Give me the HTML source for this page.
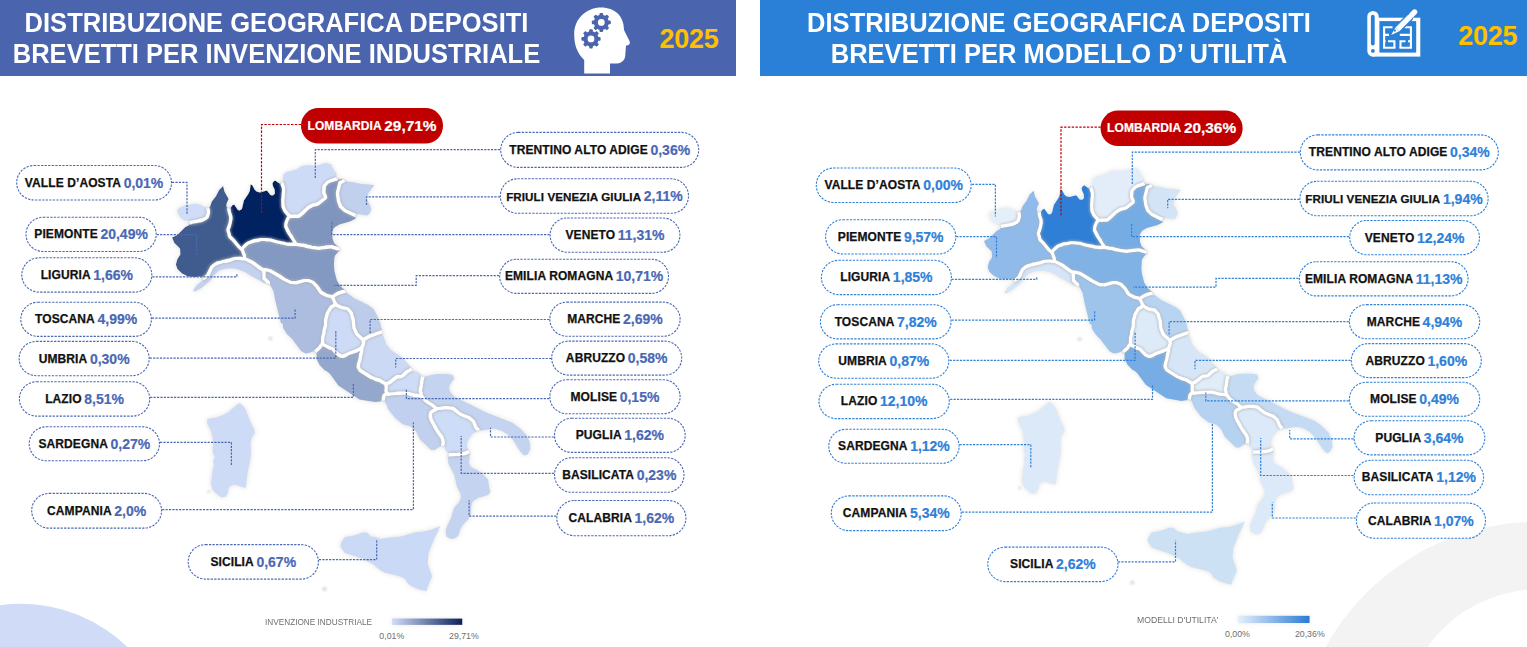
<!DOCTYPE html>
<html><head><meta charset="utf-8"><style>
*{margin:0;padding:0;box-sizing:border-box}
html,body{width:1527px;height:647px;overflow:hidden;background:#fff}
body{position:relative;font-family:"Liberation Sans",sans-serif}
.hdr{position:absolute;top:0;height:75.8px}
.ht{position:absolute;color:#fff;font-weight:bold;font-size:27.5px;line-height:27.5px;white-space:nowrap;transform-origin:center top}
.yr{position:absolute;color:#ffc000;font-weight:bold;font-size:27px;line-height:27px}
.pill{position:absolute;display:flex;align-items:center;justify-content:center;gap:2.6px;white-space:nowrap}
.pill .n{font-weight:bold;font-size:12px;color:#111;letter-spacing:0.1px;-webkit-text-stroke:0.25px #111}
.pill .v{font-weight:bold;font-size:14px;-webkit-text-stroke:0.2px currentColor}
svg{position:absolute;left:0;top:0}
.lg{position:absolute;color:#6e6e6e;white-space:nowrap}
</style></head><body>
<svg width="1527" height="647" viewBox="0 0 1527 647">
<defs>
<filter id="halo" x="-10%" y="-10%" width="120%" height="120%">
 <feGaussianBlur in="SourceAlpha" stdDeviation="2.6" result="b"/>
 <feFlood flood-color="#d2d0cc" flood-opacity="0.7"/>
 <feComposite in2="b" operator="in" result="halo"/>
 <feGaussianBlur in="SourceGraphic" stdDeviation="0.4" result="sg"/>
 <feMerge><feMergeNode in="halo"/><feMergeNode in="sg"/></feMerge>
</filter>
<filter id="soft"><feGaussianBlur stdDeviation="0.45"/></filter>
<filter id="barhalo" x="-20%" y="-150%" width="140%" height="400%">
 <feGaussianBlur in="SourceAlpha" stdDeviation="2" result="b"/>
 <feFlood flood-color="#d2d0cc" flood-opacity="0.5"/>
 <feComposite in2="b" operator="in" result="halo"/>
 <feMerge><feMergeNode in="halo"/><feMergeNode in="SourceGraphic"/></feMerge>
</filter>
<filter id="soft2"><feGaussianBlur stdDeviation="1.1"/></filter>

<linearGradient id="gl" x1="0" x2="1"><stop offset="0" stop-color="#d0ddf8"/><stop offset="1" stop-color="#0b1f5e"/></linearGradient>
<linearGradient id="gr" x1="0" x2="1"><stop offset="0" stop-color="#e6effb"/><stop offset="1" stop-color="#2a7bd5"/></linearGradient>
</defs>
<circle cx="21.1" cy="756.1" r="152.3" fill="#cfdbf7"/>
<path fill="#f3f3f3" fill-rule="evenodd" d="M1295.5,764.1 a242.3,242.3 0 1,0 484.6,0 a242.3,242.3 0 1,0 -484.6,0 Z M1402.6,725.3 a136,136 0 1,0 272,0 a136,136 0 1,0 -272,0 Z"/>
<g transform="translate(0,0)"><g filter="url(#soft2)" fill="#dcdcdc"><circle cx="324.6" cy="589" r="2.2"/><circle cx="270.4" cy="338.6" r="2"/><circle cx="208.8" cy="491.5" r="1.6"/></g><g filter="url(#halo)">
<path d="M223.1,186.1 L219.1,189.9 L216.1,196.1 L211.9,201.6 L209.9,206.9 L208.9,207.9 L207.9,208.1 L208.6,212.4 L207.4,216.9 L205.9,218.4 L202.9,219.9 L189.9,222.9 L189.9,223.9 L188.6,225.4 L185.4,227.1 L177.4,234.9 L172.1,237.6 L174.4,243.1 L179.6,247.9 L180.1,249.1 L180.4,254.4 L177.4,259.1 L175.9,264.6 L177.4,269.1 L182.1,273.4 L188.1,276.4 L194.9,277.1 L200.4,276.6 L201.9,277.1 L203.1,278.4 L205.9,276.6 L208.1,274.4 L211.6,266.9 L215.1,264.1 L217.1,263.1 L222.6,261.4 L229.6,260.1 L234.4,258.4 L244.4,258.4 L244.1,255.1 L241.9,249.4 L238.1,246.1 L233.1,239.9 L229.9,236.9 L229.1,235.1 L227.9,229.6 L229.9,223.9 L230.9,218.4 L228.9,210.6 L228.9,208.1 L227.6,207.9 L226.4,206.4 L226.4,203.9 L228.6,199.1 L224.4,191.6Z" fill="#405b8f"/>
<path d="M208.1,209.4 L207.6,208.1 L206.1,208.1 L200.9,204.9 L196.4,203.6 L184.9,205.6 L179.9,207.6 L177.6,209.4 L177.1,210.4 L177.9,213.4 L180.9,217.9 L184.4,220.4 L188.1,220.6 L189.6,221.9 L189.9,222.6 L199.9,220.6 L205.9,218.1 L207.1,216.9 L208.4,212.4Z" fill="#cfddf8"/>
<path d="M281.6,183.1 L280.4,183.6 L279.4,183.4 L275.1,180.4 L273.6,181.4 L272.4,183.6 L273.1,186.4 L274.6,189.4 L274.9,193.4 L273.6,194.9 L272.1,195.4 L270.4,194.9 L266.9,190.6 L259.9,192.4 L256.6,191.6 L254.9,190.1 L252.1,185.1 L250.6,184.6 L249.9,190.6 L248.6,193.6 L243.9,200.6 L241.9,208.9 L240.4,210.1 L239.4,210.4 L237.9,209.9 L234.1,204.6 L232.1,205.6 L230.6,207.9 L228.9,208.6 L231.1,218.4 L230.1,223.9 L228.1,229.6 L229.4,235.1 L230.1,236.9 L233.4,239.9 L238.4,246.1 L241.6,249.1 L247.6,243.1 L254.4,240.6 L260.9,239.4 L270.6,239.9 L279.4,242.4 L288.1,244.1 L292.4,244.4 L295.4,243.9 L295.1,242.6 L288.1,231.9 L285.6,226.6 L285.6,223.9 L286.4,221.4 L289.4,216.1 L285.4,211.6 L282.9,206.4 L282.6,198.9 L283.4,192.9 L283.4,188.1Z" fill="#002060"/>
<path d="M331.1,164.4 L326.1,162.9 L314.6,165.9 L308.9,165.1 L301.6,165.9 L296.6,169.4 L286.4,172.1 L283.1,175.1 L283.1,181.6 L281.9,183.1 L283.6,188.1 L283.6,192.9 L282.9,198.9 L283.1,206.4 L285.6,211.6 L289.9,216.4 L298.9,215.9 L302.1,213.4 L307.6,207.9 L312.4,205.1 L317.6,203.9 L325.1,198.1 L325.4,196.4 L323.6,192.4 L324.1,185.9 L327.6,182.1 L336.6,178.6 L336.1,177.4 L336.6,173.6 L333.6,169.6Z" fill="#cddbf6"/>
<path d="M343.6,179.1 L338.9,179.4 L336.9,178.4 L336.4,179.1 L330.1,181.1 L327.6,182.4 L324.4,185.9 L323.9,192.4 L325.6,196.4 L325.6,197.6 L324.6,198.9 L317.6,204.1 L312.4,205.4 L307.6,208.1 L302.1,213.6 L298.9,216.1 L293.9,216.6 L289.6,216.4 L287.9,218.6 L286.1,222.9 L285.9,226.6 L288.4,231.9 L295.4,242.6 L295.9,244.1 L303.4,245.1 L308.6,246.6 L315.6,247.9 L318.9,248.1 L331.4,246.6 L337.1,248.6 L339.4,248.6 L334.1,243.1 L332.6,238.9 L332.1,231.6 L333.9,228.1 L335.1,226.9 L339.4,224.4 L349.9,221.6 L355.9,218.6 L355.1,217.6 L355.4,215.6 L345.1,210.9 L340.4,206.4 L338.4,200.9 L337.4,195.1 L337.4,192.6 L339.9,182.6 L343.9,180.6 L344.1,180.1Z" fill="#8095be"/>
<path d="M340.4,182.4 L337.6,192.6 L337.6,195.1 L338.6,200.9 L340.6,206.4 L345.1,210.6 L355.1,215.4 L357.9,214.1 L366.9,215.4 L369.4,214.1 L371.4,208.9 L369.4,204.1 L366.9,200.1 L366.9,198.4 L368.4,193.1 L374.4,185.1 L361.6,183.9 L351.6,181.9 L346.4,181.4 L344.4,180.4 L343.1,181.4Z" fill="#c0d0ed"/>
<path d="M241.9,249.1 L244.4,255.1 L244.9,258.6 L252.6,262.4 L260.6,268.4 L263.6,269.6 L265.1,269.4 L270.9,270.9 L288.9,281.6 L290.9,282.4 L296.1,282.6 L304.4,280.4 L309.1,280.6 L312.9,282.1 L317.1,286.4 L321.1,292.4 L326.4,295.4 L331.9,296.6 L338.1,293.1 L342.6,291.6 L344.9,291.4 L344.9,290.4 L339.9,285.4 L336.9,280.6 L334.4,271.1 L333.9,265.1 L334.4,257.4 L335.4,255.1 L338.1,251.9 L340.4,250.1 L339.6,248.9 L338.1,249.1 L331.4,246.9 L318.9,248.4 L315.6,248.1 L295.6,244.1 L292.4,244.6 L286.4,244.1 L270.6,240.1 L260.9,239.6 L254.4,240.9 L248.1,243.1Z" fill="#8499c1"/>
<path d="M268.4,282.6 L263.9,278.4 L263.9,272.4 L263.4,271.9 L263.4,269.6 L260.6,268.6 L252.6,262.6 L244.6,258.6 L234.4,258.6 L229.6,260.4 L222.6,261.6 L217.1,263.4 L212.4,266.4 L207.6,275.4 L203.1,278.6 L202.9,280.6 L196.9,285.1 L192.9,290.6 L195.1,291.6 L201.4,287.9 L208.6,281.9 L211.1,279.4 L214.1,275.1 L219.1,270.6 L222.6,269.4 L227.6,268.4 L233.9,268.4 L238.6,269.4 L245.9,272.4 L249.4,274.9 L264.4,283.1 L268.4,283.6Z" fill="#c4d2f0"/>
<path d="M263.9,269.9 L263.6,271.9 L264.1,272.4 L264.1,278.4 L268.6,282.6 L268.6,283.6 L270.6,285.4 L273.6,291.4 L275.4,301.1 L280.9,322.9 L281.6,323.1 L282.9,324.6 L283.1,327.9 L286.9,333.9 L292.1,339.1 L301.1,351.1 L305.6,353.4 L310.4,352.6 L313.6,351.1 L315.1,351.6 L319.6,347.6 L320.9,345.4 L322.4,344.1 L322.6,337.4 L323.9,332.6 L323.9,330.1 L325.4,326.1 L325.4,319.9 L327.1,313.4 L330.6,307.4 L335.6,304.4 L335.4,303.1 L334.6,302.6 L332.1,296.9 L326.4,295.6 L321.1,292.6 L316.9,286.4 L312.9,282.4 L308.4,280.6 L304.4,280.6 L296.1,282.9 L290.9,282.6 L284.1,279.4 L270.9,271.1 L265.1,269.6Z" fill="#acbddf"/>
<path d="M332.4,296.9 L334.9,302.6 L335.6,303.1 L335.9,304.6 L341.1,307.4 L347.6,308.6 L351.1,312.6 L353.4,320.1 L354.1,327.9 L356.9,334.1 L362.9,339.6 L369.4,336.1 L381.9,331.9 L382.1,330.9 L380.4,323.6 L378.1,317.6 L373.6,308.9 L368.1,305.1 L353.9,298.1 L348.6,293.9 L346.1,292.9 L345.1,291.6 L342.6,291.9 L338.1,293.4Z" fill="#bcccea"/>
<path d="M335.6,304.6 L330.9,307.4 L327.4,313.4 L325.6,319.9 L325.6,326.1 L324.1,330.1 L324.1,332.6 L322.9,337.4 L322.6,344.1 L329.4,347.6 L332.4,348.6 L337.9,354.4 L341.4,356.1 L343.1,356.1 L348.6,353.4 L356.6,350.6 L361.1,348.4 L362.6,345.9 L363.6,342.6 L362.6,339.4 L356.6,334.1 L353.9,327.9 L353.1,320.1 L350.9,312.6 L347.6,308.9 L341.1,307.6Z" fill="#cddbf7"/>
<path d="M315.4,351.6 L316.6,353.1 L316.6,358.9 L319.6,364.9 L324.4,369.9 L327.9,371.9 L330.1,374.1 L338.4,385.4 L359.4,399.4 L374.9,402.1 L380.1,401.4 L383.1,400.1 L384.1,395.1 L386.6,393.4 L385.9,390.9 L385.9,383.9 L379.6,380.4 L375.4,379.4 L368.4,375.9 L360.4,370.6 L358.1,367.1 L358.6,363.4 L359.9,359.6 L361.9,349.1 L361.4,348.6 L360.6,348.6 L356.6,350.9 L348.6,353.6 L343.1,356.4 L341.4,356.4 L337.9,354.6 L332.4,348.9 L329.4,347.9 L322.4,344.4 L321.1,345.4 L319.9,347.6Z" fill="#94a7cc"/>
<path d="M381.1,332.1 L369.4,336.4 L363.1,339.9 L363.9,342.6 L362.9,345.9 L361.4,348.4 L362.1,349.1 L360.1,359.6 L358.9,363.4 L358.4,367.1 L360.4,370.4 L369.6,376.4 L375.4,379.1 L379.6,380.1 L384.6,383.1 L386.4,383.6 L389.6,382.4 L397.1,376.6 L401.9,376.1 L406.6,371.9 L411.6,369.4 L410.9,367.4 L402.9,358.1 L391.6,350.4 L388.9,347.6 L386.4,344.4 L384.1,337.9 L381.9,333.4 L381.9,332.1Z" fill="#cbd9f5"/>
<path d="M422.9,376.6 L421.6,376.4 L420.6,375.4 L419.6,373.1 L416.1,371.4 L413.1,370.9 L411.1,369.6 L406.6,372.1 L401.9,376.4 L397.1,376.9 L389.6,382.6 L386.1,383.9 L386.1,390.9 L386.9,393.4 L388.9,394.1 L397.1,393.1 L406.4,392.9 L414.4,395.1 L420.9,395.6 L421.1,394.4 L420.1,389.9 L421.1,385.9 L421.6,380.9Z" fill="#cedcf7"/>
<path d="M422.9,376.9 L420.4,389.9 L421.4,394.4 L421.1,395.6 L425.1,400.1 L432.6,405.1 L436.6,408.9 L443.4,407.6 L448.6,407.6 L453.1,408.4 L460.6,414.1 L468.4,417.1 L471.6,419.4 L473.6,421.4 L476.1,427.4 L478.4,430.1 L479.6,429.9 L481.9,430.6 L487.9,429.4 L494.6,428.6 L502.1,430.9 L507.1,434.1 L513.1,440.1 L519.9,450.9 L524.1,455.6 L527.6,454.6 L530.4,449.1 L529.6,441.6 L526.1,434.6 L519.6,428.1 L511.9,422.6 L486.1,412.6 L454.1,396.6 L452.1,394.6 L449.6,390.9 L449.1,386.6 L451.4,382.6 L454.4,378.6 L452.6,374.9 L447.1,374.1 L437.6,374.1 L430.9,374.9 L426.1,376.4Z" fill="#c4d3f0"/>
<path d="M384.4,395.1 L383.1,400.6 L384.4,400.9 L385.4,401.9 L388.4,409.4 L395.1,418.1 L403.1,424.4 L410.9,426.4 L416.1,431.6 L419.6,438.9 L431.1,450.1 L434.6,450.1 L440.6,446.1 L442.1,445.6 L442.6,445.9 L443.1,441.9 L442.1,438.1 L435.1,427.6 L431.4,420.6 L430.1,416.1 L430.9,412.1 L436.1,409.4 L436.4,408.6 L432.6,405.4 L425.1,400.4 L421.1,395.9 L414.4,395.4 L406.4,393.1 L397.1,393.4 L388.9,394.4 L386.6,393.6Z" fill="#c1d0ee"/>
<path d="M431.4,411.9 L430.4,416.1 L431.6,420.6 L436.9,430.1 L442.1,437.6 L443.4,441.9 L442.9,445.9 L444.6,447.1 L446.1,451.1 L448.6,453.1 L448.9,454.6 L462.4,453.9 L465.9,453.1 L468.6,451.6 L468.9,451.1 L467.9,449.9 L466.9,446.4 L466.9,444.4 L468.1,440.4 L471.4,435.4 L473.1,433.6 L478.1,430.4 L475.9,427.4 L473.4,421.4 L469.4,417.9 L460.6,414.4 L452.4,408.4 L443.4,407.9 L440.1,408.6 L437.9,408.6Z" fill="#cddcf7"/>
<path d="M469.1,451.4 L465.9,453.4 L462.4,454.1 L448.9,454.9 L447.9,456.4 L447.9,460.1 L448.6,464.1 L454.1,474.6 L456.9,486.6 L460.4,493.4 L460.9,495.9 L460.9,498.6 L458.9,502.4 L453.9,507.9 L451.1,518.1 L447.6,524.9 L445.6,530.4 L446.4,536.6 L451.1,539.1 L455.6,538.1 L458.6,535.1 L460.6,528.4 L463.1,524.6 L468.1,519.6 L471.1,513.6 L471.1,506.9 L472.6,501.4 L477.9,497.9 L488.1,494.9 L490.4,491.9 L488.9,486.1 L488.1,479.6 L483.1,474.4 L477.4,470.1 L471.6,467.4 L470.6,466.4 L469.1,463.4 L469.1,460.4 L469.6,458.6 L469.6,451.6Z" fill="#c4d3f0"/>
<path d="M440.4,526.1 L430.4,529.9 L423.4,531.6 L414.9,532.6 L400.9,536.4 L386.6,537.9 L380.6,539.1 L374.9,537.1 L370.6,536.4 L367.1,532.6 L362.4,532.6 L358.9,534.1 L351.9,536.1 L344.9,537.1 L342.4,540.4 L340.4,544.4 L340.9,547.6 L344.9,553.1 L361.9,558.6 L372.9,564.1 L378.6,568.9 L384.4,572.6 L398.9,576.1 L403.1,577.6 L405.1,579.1 L408.4,583.9 L413.1,587.1 L419.6,589.4 L426.6,591.1 L427.6,587.1 L432.1,576.4 L427.6,563.4 L428.4,553.6 L434.1,538.9Z" fill="#cad9f5"/>
<path d="M239.6,403.1 L237.4,404.4 L227.9,412.6 L221.9,415.6 L216.6,417.6 L209.1,418.4 L207.1,419.4 L207.1,422.9 L210.9,430.9 L212.6,436.9 L213.1,441.9 L212.6,450.4 L213.1,453.6 L214.6,456.6 L214.6,458.1 L213.1,460.9 L213.9,463.9 L213.9,466.4 L212.6,470.6 L210.9,483.9 L212.6,489.9 L217.4,494.6 L221.6,497.6 L225.9,496.4 L227.9,492.9 L228.4,487.9 L230.9,485.6 L234.6,484.6 L245.4,488.1 L245.9,487.1 L247.4,473.9 L250.6,457.4 L251.1,450.1 L250.4,444.4 L251.6,437.9 L255.1,433.1 L254.1,429.4 L251.1,423.6 L245.6,409.4 L243.1,406.1Z" fill="#cddbf7"/>
</g>
<path d="M469.6,451.6 L468.1,450.4 L467.9,449.1 L467.4,449.1 L465.4,450.4 L462.4,451.1 L458.4,451.4 L458.1,451.6 L451.4,451.6 L451.1,451.9 L447.9,452.1 L448.9,453.6 L448.9,455.1 L447.9,456.4 L447.9,457.4 L448.9,457.6 L458.1,457.4 L458.4,457.1 L462.4,456.9 L466.9,455.9 L469.6,454.4ZM210.1,206.6 L208.9,207.9 L207.4,208.4 L206.1,208.1 L205.1,207.4 L204.9,208.4 L205.4,209.6 L205.6,212.4 L204.9,215.1 L204.4,215.9 L199.6,217.9 L193.9,219.1 L192.6,219.1 L188.4,220.4 L188.1,220.6 L189.9,222.4 L189.9,223.9 L188.9,225.4 L190.4,225.6 L192.6,224.9 L193.9,224.9 L200.9,223.4 L203.9,222.4 L207.4,220.6 L209.9,217.9 L211.4,212.4 L211.1,209.4ZM226.4,207.1 L225.9,209.1 L226.9,213.9 L227.9,216.4 L227.9,218.1 L228.1,218.4 L227.4,222.9 L225.1,229.6 L225.1,230.6 L226.4,234.4 L226.6,236.1 L227.6,238.4 L230.9,241.4 L235.9,247.6 L239.9,251.4 L240.4,253.4 L241.4,255.4 L241.1,255.6 L240.6,255.4 L234.4,255.6 L228.6,257.6 L221.6,258.9 L220.9,259.4 L216.1,260.6 L213.6,261.9 L210.9,263.9 L209.4,265.4 L205.9,272.4 L205.9,272.9 L204.4,274.4 L201.9,275.9 L200.9,276.9 L201.9,277.1 L203.1,278.6 L203.1,280.1 L202.4,281.1 L203.1,281.4 L205.6,280.4 L209.9,276.9 L210.6,275.9 L213.9,268.9 L216.6,266.6 L220.4,265.1 L221.1,265.1 L223.9,264.1 L225.4,264.1 L230.6,262.9 L234.4,261.4 L240.6,261.1 L242.4,261.6 L244.1,261.4 L251.1,264.9 L257.6,269.9 L260.4,271.4 L261.1,273.1 L261.1,278.4 L261.6,279.9 L264.9,283.1 L268.6,283.6 L270.6,285.4 L271.4,283.6 L271.1,281.6 L266.9,277.4 L266.9,273.1 L267.1,272.9 L269.1,273.4 L271.1,274.4 L282.6,281.6 L289.9,285.1 L293.1,285.4 L293.4,285.6 L293.6,285.4 L296.1,285.6 L304.4,283.4 L308.1,283.4 L311.4,284.6 L314.6,287.9 L317.9,293.1 L319.6,294.9 L325.4,298.1 L329.9,299.1 L330.9,300.1 L332.1,303.4 L329.6,304.6 L328.4,305.9 L324.6,312.4 L324.4,314.1 L322.6,319.9 L322.9,320.6 L322.6,325.6 L321.1,330.1 L321.1,332.6 L319.9,337.4 L319.6,342.9 L318.6,343.9 L317.4,346.1 L315.6,347.4 L312.9,350.1 L312.4,351.6 L313.6,351.1 L314.9,351.4 L316.4,352.6 L316.6,353.9 L316.9,353.9 L318.6,352.1 L320.1,351.1 L322.1,349.1 L323.1,347.6 L328.4,350.4 L330.9,351.1 L336.4,356.9 L341.4,359.1 L344.1,358.9 L346.6,357.9 L349.6,356.1 L358.1,353.1 L358.4,353.4 L357.9,354.6 L357.1,359.6 L356.4,361.4 L355.4,365.9 L355.6,368.1 L357.4,371.4 L358.9,372.9 L369.9,379.9 L372.1,380.6 L374.4,381.9 L378.4,382.9 L382.6,385.1 L383.4,386.1 L383.4,387.9 L383.1,388.1 L383.4,392.1 L381.6,394.1 L380.4,398.9 L380.4,400.1 L380.1,400.4 L380.4,401.1 L382.9,400.4 L384.4,400.9 L385.4,401.9 L385.9,401.1 L386.4,397.6 L386.9,396.6 L388.9,397.1 L389.1,396.9 L396.9,396.4 L397.1,396.1 L401.6,396.1 L401.9,395.9 L405.1,395.9 L405.4,396.1 L406.4,395.9 L414.4,398.1 L419.9,398.6 L425.1,403.9 L430.4,407.1 L431.9,408.4 L429.9,409.4 L428.4,411.1 L427.4,415.1 L427.9,418.6 L428.9,421.6 L432.9,429.1 L436.1,434.4 L439.6,439.1 L440.4,441.9 L440.4,443.1 L439.9,444.6 L440.1,446.6 L440.6,446.1 L442.1,445.6 L443.6,446.1 L444.9,447.6 L445.6,445.9 L446.1,441.9 L445.1,437.9 L444.4,436.1 L439.1,428.6 L433.6,418.4 L433.1,416.1 L433.4,414.1 L438.4,411.4 L440.1,411.4 L443.4,410.6 L448.6,410.6 L448.9,410.9 L451.9,411.1 L459.1,416.6 L463.4,418.6 L467.4,419.9 L470.1,421.9 L471.1,422.9 L471.9,424.4 L472.1,425.9 L473.6,428.9 L475.9,431.6 L478.4,430.1 L479.4,429.9 L480.9,430.4 L481.1,430.1 L480.6,428.4 L478.4,425.9 L475.9,419.9 L473.1,417.1 L470.9,415.4 L462.1,411.9 L458.9,409.6 L455.4,406.6 L453.4,405.6 L450.9,405.1 L448.9,405.1 L448.6,404.9 L443.4,404.9 L443.1,405.1 L437.4,405.9 L434.1,402.9 L428.1,399.1 L424.1,394.9 L423.1,390.9 L423.4,388.4 L424.1,385.9 L424.6,380.9 L425.6,377.6 L425.4,376.4 L424.1,376.9 L422.1,376.6 L420.6,375.1 L420.1,375.9 L418.9,380.9 L418.4,385.9 L417.4,389.9 L417.9,392.4 L417.6,392.6 L414.4,392.4 L409.9,390.9 L406.4,390.1 L405.4,390.4 L405.1,390.1 L397.1,390.4 L396.9,390.6 L389.4,391.1 L388.9,390.6 L388.9,388.1 L389.4,385.6 L391.1,384.9 L397.4,379.9 L401.1,379.4 L403.4,378.6 L404.9,377.6 L408.1,374.4 L411.1,372.6 L413.1,371.9 L413.9,371.1 L413.9,370.9 L412.6,370.6 L411.6,369.6 L411.4,368.1 L410.4,366.9 L405.1,369.6 L401.1,373.4 L399.6,373.9 L396.1,374.1 L394.4,375.1 L388.1,380.1 L386.1,380.9 L380.6,377.6 L376.4,376.6 L374.1,375.4 L372.9,375.1 L367.1,371.6 L361.9,367.9 L361.1,366.6 L361.1,365.9 L362.9,359.6 L363.6,354.6 L364.9,350.1 L364.6,348.1 L365.4,346.9 L366.6,342.6 L366.1,341.4 L370.4,338.9 L382.6,334.6 L381.9,333.4 L382.1,330.9 L381.6,329.1 L380.1,329.4 L368.4,333.6 L365.4,335.1 L363.6,336.4 L358.9,332.1 L356.9,327.4 L356.1,320.1 L354.4,314.4 L354.1,312.6 L353.4,311.1 L349.1,306.4 L347.1,305.6 L342.1,304.9 L338.4,302.9 L337.9,301.6 L337.1,300.9 L335.9,297.9 L339.1,295.9 L342.9,294.6 L345.6,294.4 L347.1,293.1 L346.1,292.9 L345.1,291.9 L344.9,290.4 L343.4,288.9 L341.6,289.1 L337.1,290.6 L334.6,291.9 L331.9,293.9 L327.4,292.9 L323.1,290.4 L319.4,284.9 L314.4,279.9 L308.4,277.6 L304.4,277.6 L296.1,279.9 L294.4,279.9 L294.1,279.6 L293.4,279.9 L289.9,279.1 L285.6,276.9 L281.6,274.1 L271.9,268.4 L265.1,266.6 L264.1,266.9 L262.1,266.1 L254.1,260.1 L247.9,257.1 L247.4,256.6 L246.9,254.1 L245.6,251.4 L245.1,249.4 L249.1,245.6 L254.6,243.6 L260.9,242.4 L265.9,242.4 L266.1,242.6 L270.6,242.9 L276.4,244.6 L281.6,245.9 L283.1,245.9 L286.4,246.9 L290.4,247.1 L290.6,247.4 L290.9,247.1 L292.4,247.4 L292.6,247.1 L295.1,247.1 L295.6,246.9 L299.6,247.9 L303.4,248.1 L308.6,249.6 L309.6,249.6 L312.1,250.4 L315.4,250.6 L315.6,250.9 L318.9,251.1 L322.9,250.4 L331.1,249.6 L338.1,251.9 L339.6,250.4 L340.4,250.1 L339.1,248.1 L336.4,245.4 L332.4,244.1 L330.1,243.9 L329.9,244.1 L325.1,244.4 L324.9,244.6 L322.9,244.6 L322.6,244.9 L318.1,245.4 L317.9,245.1 L312.1,244.6 L303.4,242.4 L301.4,242.4 L297.9,241.6 L290.6,230.4 L288.6,226.1 L288.6,223.9 L290.1,220.1 L291.1,219.1 L292.9,219.1 L293.1,219.4 L298.1,219.1 L300.4,218.4 L303.6,215.9 L309.1,210.4 L313.4,207.9 L319.1,206.4 L326.1,201.1 L327.6,199.6 L328.4,197.6 L328.1,195.4 L326.6,191.9 L326.9,187.1 L329.1,184.6 L331.1,183.6 L336.9,181.6 L337.4,181.9 L335.4,189.1 L335.1,191.4 L334.6,192.6 L334.6,195.1 L334.9,195.4 L335.9,201.9 L338.1,207.9 L343.6,213.1 L354.1,218.1 L355.4,218.4 L355.1,216.1 L356.4,214.6 L357.6,214.4 L357.6,213.9 L355.6,212.4 L352.4,211.1 L347.1,208.4 L346.6,208.4 L343.1,205.1 L341.1,199.6 L341.1,198.4 L340.4,195.1 L340.4,192.6 L342.4,184.6 L345.4,183.1 L346.9,181.4 L344.9,180.9 L343.9,179.9 L343.6,179.1 L340.9,179.1 L339.6,179.6 L337.4,178.9 L336.1,177.4 L336.1,175.9 L335.6,175.9 L334.6,176.6 L329.1,178.4 L326.1,179.9 L321.9,184.4 L321.4,185.9 L320.9,192.4 L322.6,196.6 L316.9,201.1 L315.9,201.6 L311.4,202.6 L306.1,205.6 L300.6,211.1 L297.6,213.4 L294.1,213.4 L293.9,213.6 L290.6,213.4 L287.9,210.1 L285.9,206.4 L285.6,198.9 L285.9,198.6 L285.9,195.9 L286.1,195.6 L286.1,193.1 L286.4,192.9 L286.4,188.1 L284.9,183.1 L284.1,181.6 L283.4,180.9 L283.1,180.9 L282.9,182.1 L281.9,183.1 L280.4,183.6 L278.9,183.1 L280.6,188.1 L280.6,192.9 L280.4,193.1 L280.1,198.6 L279.9,198.9 L280.1,206.4 L280.6,208.4 L282.6,212.4 L285.9,216.4 L284.4,219.1 L282.9,223.9 L282.9,226.6 L285.9,233.4 L290.9,241.1 L290.6,241.6 L290.4,241.4 L286.4,241.1 L283.1,240.1 L279.4,239.6 L270.6,237.1 L266.1,236.9 L265.9,236.6 L260.9,236.6 L253.4,238.1 L246.1,240.9 L241.4,245.4 L235.6,238.4 L232.4,235.4 L231.1,231.4 L230.9,229.9 L232.6,224.9 L233.9,218.6 L233.1,214.4 L232.1,211.9 L231.6,207.4 L231.4,207.1 L230.6,207.9 L229.1,208.4 L227.6,207.9 L226.6,206.9ZM335.6,307.6 L340.1,310.1 L343.1,310.9 L345.6,311.1 L348.6,314.1 L350.4,320.1 L351.1,327.9 L352.6,331.9 L354.4,335.6 L360.4,341.1 L360.6,343.4 L359.4,346.1 L355.6,348.1 L347.6,350.9 L345.6,352.1 L342.6,353.4 L341.9,353.4 L339.4,352.1 L333.9,346.4 L330.4,345.1 L325.4,342.4 L325.6,337.4 L326.9,332.6 L326.9,330.6 L328.4,326.1 L328.4,322.1 L328.6,321.9 L328.4,319.9 L329.6,316.1 L329.9,314.4 L332.9,309.4 L334.9,308.4Z" fill="#b0b0b0" fill-opacity="0.6" fill-rule="evenodd" filter="url(#soft2)"/>
<path d="M469.6,451.6 L467.9,450.1 L465.4,451.6 L464.4,451.6 L461.9,452.4 L457.9,452.6 L457.6,452.9 L448.6,453.1 L448.9,455.1 L448.1,456.1 L448.4,456.4 L458.6,456.1 L458.9,455.9 L461.1,455.9 L461.4,455.6 L464.1,455.4 L465.4,454.9 L466.4,454.9 L469.6,453.1ZM209.4,207.6 L207.4,208.4 L206.1,208.1 L206.9,211.9 L205.9,215.6 L204.9,216.9 L202.4,218.1 L199.4,219.1 L189.4,221.1 L189.1,221.4 L189.9,222.4 L189.6,224.4 L190.9,224.4 L193.1,223.6 L194.4,223.6 L199.4,222.4 L200.4,222.4 L203.4,221.4 L206.9,219.6 L208.9,217.4 L210.1,212.9 L210.1,210.6ZM343.1,179.1 L341.6,180.1 L339.4,180.9 L338.4,182.1 L335.9,192.1 L335.9,195.6 L336.1,195.9 L336.9,201.4 L339.1,207.4 L344.1,212.1 L354.6,217.1 L355.1,217.1 L355.4,215.6 L356.6,214.4 L354.6,213.1 L354.1,213.1 L346.6,209.4 L346.1,209.4 L342.1,205.6 L340.1,200.4 L339.4,194.9 L339.1,194.6 L339.1,193.1 L341.4,184.1 L342.1,183.4 L344.1,182.6 L345.6,181.4 L343.9,179.9 L343.6,179.1ZM227.4,207.6 L227.1,208.1 L227.4,211.1 L229.1,216.9 L229.1,219.6 L228.9,219.9 L228.6,222.4 L226.4,229.1 L226.4,231.1 L227.4,233.9 L227.6,235.6 L228.6,237.9 L231.9,240.9 L236.9,247.1 L240.9,250.9 L242.9,256.6 L242.6,256.9 L241.4,256.9 L241.1,256.6 L233.9,256.9 L229.1,258.6 L226.1,259.1 L224.9,259.6 L222.1,259.9 L221.4,260.4 L216.6,261.6 L214.1,262.9 L210.4,265.9 L206.9,272.9 L206.9,273.4 L204.9,275.4 L202.1,277.1 L203.1,278.6 L203.1,280.1 L205.1,279.4 L208.9,276.4 L209.6,275.4 L213.1,267.9 L216.1,265.6 L219.9,264.1 L222.4,263.6 L223.1,263.1 L225.9,262.9 L227.1,262.4 L230.1,261.9 L234.9,260.1 L240.1,259.9 L241.9,260.4 L244.6,260.4 L251.6,263.9 L259.6,269.9 L261.9,270.9 L261.9,272.4 L262.4,273.1 L262.4,278.9 L262.6,279.4 L266.9,283.4 L268.6,283.6 L269.9,284.6 L270.1,284.1 L269.9,281.6 L265.6,277.6 L265.6,271.9 L265.9,271.6 L268.9,272.1 L271.6,273.4 L283.1,280.6 L290.4,284.1 L296.6,284.4 L304.9,282.1 L307.9,282.1 L311.9,283.6 L315.6,287.4 L318.9,292.6 L320.1,293.9 L325.9,297.1 L330.6,298.1 L331.9,299.6 L333.4,303.4 L332.4,304.6 L330.1,305.6 L329.4,306.4 L325.6,312.9 L325.4,314.6 L323.9,319.4 L323.9,320.9 L324.1,321.1 L323.9,321.6 L323.9,325.6 L323.4,326.4 L322.9,328.9 L322.4,329.6 L322.4,332.1 L321.1,336.9 L320.9,343.1 L319.6,344.4 L318.4,346.6 L316.1,348.4 L313.6,351.1 L315.4,351.6 L316.4,352.9 L321.1,348.6 L322.4,346.4 L322.9,346.1 L323.4,346.6 L326.4,347.9 L328.9,349.4 L331.4,350.1 L336.9,355.9 L340.9,357.9 L343.6,357.9 L346.1,356.9 L349.1,355.1 L357.1,352.4 L359.6,351.1 L359.9,351.9 L359.1,354.1 L358.4,359.1 L357.4,361.9 L356.6,365.4 L356.6,367.6 L358.4,370.9 L359.4,371.9 L370.4,378.9 L372.6,379.6 L374.9,380.9 L378.9,381.9 L384.1,384.9 L384.6,386.6 L384.4,391.4 L384.9,392.4 L382.6,394.6 L381.9,397.1 L381.4,400.9 L382.9,400.4 L384.6,401.1 L385.6,396.4 L386.6,395.4 L387.9,395.9 L389.4,395.9 L389.6,395.6 L397.4,395.1 L397.6,394.9 L402.1,394.9 L402.4,394.6 L407.4,394.9 L413.9,396.9 L420.4,397.4 L424.1,401.6 L426.6,403.6 L431.6,406.6 L433.6,408.6 L433.1,409.1 L430.4,410.4 L429.4,411.6 L428.6,414.6 L428.6,416.6 L429.1,419.1 L429.9,421.1 L433.9,428.6 L437.1,433.9 L440.6,438.6 L441.6,442.4 L441.1,444.1 L441.1,445.9 L442.1,445.6 L443.1,445.9 L444.1,446.6 L444.4,446.4 L444.4,445.1 L444.9,443.6 L444.9,441.4 L444.1,438.4 L443.4,436.6 L438.1,429.1 L434.9,422.9 L433.4,420.6 L432.4,418.1 L431.9,415.6 L432.4,413.4 L432.9,412.9 L438.4,410.1 L440.6,410.1 L443.9,409.4 L448.1,409.4 L448.4,409.6 L451.9,409.9 L459.6,415.6 L463.9,417.6 L467.9,418.9 L470.6,420.9 L472.1,422.4 L472.9,423.9 L473.1,425.4 L474.6,428.4 L476.9,431.1 L478.4,430.1 L479.4,429.9 L479.9,430.1 L479.6,428.9 L477.4,426.4 L474.9,420.4 L470.4,416.4 L461.6,412.9 L458.4,410.6 L454.9,407.6 L452.9,406.6 L449.4,406.4 L449.1,406.1 L442.9,406.1 L442.6,406.4 L441.4,406.4 L439.6,406.9 L437.4,406.9 L437.1,407.1 L433.6,403.9 L429.4,401.4 L426.1,398.9 L422.9,395.1 L422.6,392.6 L421.9,390.4 L422.9,386.4 L422.9,384.6 L423.4,382.9 L423.4,381.4 L424.4,378.1 L424.4,376.6 L423.1,376.9 L421.4,376.1 L421.1,376.4 L420.1,380.4 L419.6,385.4 L418.6,389.4 L418.6,391.4 L419.4,393.6 L419.1,394.1 L416.9,393.6 L414.9,393.6 L406.9,391.4 L396.6,391.6 L396.4,391.9 L388.6,392.4 L388.1,391.9 L387.6,390.4 L387.6,388.6 L387.9,388.4 L387.9,385.6 L387.6,385.1 L390.6,383.9 L397.6,378.4 L400.1,378.4 L402.9,377.6 L404.4,376.6 L407.6,373.4 L410.6,371.6 L412.9,370.6 L411.6,369.6 L411.1,367.9 L410.6,367.9 L405.6,370.6 L401.6,374.4 L400.6,374.9 L396.6,375.1 L395.6,375.6 L388.6,381.1 L386.6,381.9 L385.6,381.9 L380.1,378.6 L379.1,378.6 L378.4,378.1 L375.9,377.6 L373.6,376.4 L372.4,376.1 L361.1,368.9 L359.9,366.4 L360.6,362.9 L361.6,360.1 L362.4,355.1 L363.6,350.6 L363.4,348.1 L364.4,346.4 L365.4,343.1 L365.4,342.1 L364.9,340.9 L369.9,337.9 L382.1,333.6 L381.9,333.4 L382.1,330.9 L381.9,330.4 L380.6,330.4 L374.9,332.4 L374.1,332.9 L368.9,334.6 L363.6,337.6 L363.1,337.6 L358.1,333.1 L355.6,327.4 L354.9,319.6 L353.4,314.9 L353.1,313.1 L352.4,311.6 L348.6,307.4 L347.6,306.9 L342.4,306.1 L337.9,303.9 L336.1,301.4 L334.6,297.9 L334.9,297.1 L338.6,294.9 L343.1,293.4 L345.6,293.1 L345.9,292.6 L345.1,291.9 L344.9,290.4 L344.4,289.9 L344.1,290.1 L342.1,290.1 L337.6,291.6 L335.1,292.9 L332.4,294.9 L327.6,294.1 L322.1,291.1 L318.4,285.4 L313.9,280.9 L308.9,278.9 L303.9,278.9 L295.6,281.1 L291.4,280.9 L285.1,277.9 L281.1,275.1 L271.4,269.4 L265.6,267.9 L263.6,267.9 L261.6,267.1 L253.6,261.1 L246.1,257.4 L245.9,254.6 L244.6,251.9 L243.9,249.1 L248.6,244.6 L254.9,242.4 L258.6,241.9 L261.4,241.1 L265.4,241.1 L265.6,241.4 L270.1,241.6 L276.9,243.6 L279.9,244.1 L281.1,244.6 L282.6,244.6 L285.9,245.6 L289.9,245.9 L290.1,246.1 L296.4,245.9 L299.1,246.6 L302.9,246.9 L308.1,248.4 L309.1,248.4 L311.6,249.1 L314.9,249.4 L315.1,249.6 L319.4,249.9 L321.4,249.4 L330.9,248.4 L337.6,250.6 L339.4,250.6 L340.4,250.1 L338.1,247.1 L331.9,245.1 L324.6,245.6 L324.4,245.9 L322.4,245.9 L320.1,246.4 L316.1,246.4 L315.9,246.1 L312.6,245.9 L310.1,245.1 L309.1,245.1 L303.9,243.6 L301.9,243.6 L298.9,242.9 L297.6,242.9 L296.9,242.4 L293.6,237.4 L292.9,235.6 L291.1,233.4 L287.4,226.1 L287.4,224.4 L288.1,221.9 L289.1,219.6 L290.6,217.9 L294.4,218.1 L294.6,217.9 L298.6,217.9 L299.9,217.4 L303.1,214.9 L308.6,209.4 L312.9,206.9 L318.6,205.4 L326.6,199.1 L327.1,198.1 L327.1,195.9 L325.4,191.9 L325.6,191.4 L325.9,186.6 L328.6,183.6 L330.6,182.6 L337.4,180.4 L338.4,179.1 L337.4,178.9 L336.4,177.9 L336.1,176.9 L335.1,177.6 L329.6,179.4 L326.6,180.9 L322.9,184.9 L322.4,186.6 L322.1,192.9 L323.9,196.9 L323.6,197.4 L317.4,202.1 L316.4,202.6 L311.9,203.6 L307.4,206.1 L301.1,212.1 L297.6,214.6 L290.4,214.6 L286.4,209.9 L284.9,206.9 L284.6,204.4 L284.4,204.1 L284.4,199.4 L284.6,199.1 L284.6,196.4 L284.9,196.1 L284.9,193.6 L285.1,193.4 L285.1,187.6 L283.9,183.6 L282.9,181.9 L281.9,183.1 L280.4,183.6 L280.1,183.4 L281.9,188.6 L281.9,192.4 L281.6,192.6 L281.4,198.1 L281.1,198.4 L281.4,206.9 L283.6,211.9 L287.4,216.4 L286.4,217.6 L284.4,222.4 L284.1,227.1 L286.9,232.9 L292.9,242.1 L292.6,242.6 L286.9,242.4 L283.6,241.4 L282.1,241.4 L280.9,240.9 L277.9,240.4 L271.1,238.4 L266.6,238.1 L266.4,237.9 L260.4,237.9 L257.6,238.6 L253.9,239.1 L247.6,241.4 L244.6,243.6 L241.4,246.9 L239.6,245.1 L234.6,238.9 L231.1,235.4 L230.6,232.9 L229.6,230.1 L230.6,227.6 L232.1,222.1 L232.1,220.9 L232.6,219.1 L232.4,215.9 L230.9,211.4 L230.6,207.9 L229.1,208.4ZM335.6,306.4 L340.6,309.1 L345.4,310.1 L346.6,310.1 L349.6,313.6 L351.6,320.6 L352.4,328.4 L353.1,329.6 L353.6,331.4 L355.4,335.1 L361.4,340.6 L361.4,341.4 L361.9,342.4 L361.9,343.4 L361.4,344.1 L361.1,345.4 L359.9,347.1 L356.1,349.1 L348.1,351.9 L346.1,353.1 L342.6,354.6 L341.9,354.6 L338.9,353.1 L333.4,347.4 L329.9,346.1 L328.9,345.4 L325.4,343.9 L324.1,342.9 L324.4,337.9 L325.6,333.1 L325.6,330.6 L326.1,329.9 L326.1,328.9 L327.1,326.6 L327.4,319.4 L328.6,315.6 L328.9,313.9 L331.9,308.9 L332.6,308.1 L334.4,307.4ZM265.4,271.6 L265.6,271.4 L265.9,271.6 L265.6,271.9Z" fill="#fff" fill-rule="evenodd" filter="url(#soft)"/>
</g>
<g transform="translate(816.6,9.8) scale(0.9727)"><g filter="url(#soft2)" fill="#dcdcdc"><circle cx="324.6" cy="589" r="2.2"/><circle cx="270.4" cy="338.6" r="2"/><circle cx="208.8" cy="491.5" r="1.6"/></g><g filter="url(#halo)">
<path d="M223.1,186.1 L219.1,189.9 L216.1,196.1 L211.9,201.6 L209.9,206.9 L208.9,207.9 L207.9,208.1 L208.6,212.4 L207.4,216.9 L205.9,218.4 L202.9,219.9 L189.9,222.9 L189.9,223.9 L188.6,225.4 L185.4,227.1 L177.4,234.9 L172.1,237.6 L174.4,243.1 L179.6,247.9 L180.1,249.1 L180.4,254.4 L177.4,259.1 L175.9,264.6 L177.4,269.1 L182.1,273.4 L188.1,276.4 L194.9,277.1 L200.4,276.6 L201.9,277.1 L203.1,278.4 L205.9,276.6 L208.1,274.4 L211.6,266.9 L215.1,264.1 L217.1,263.1 L222.6,261.4 L229.6,260.1 L234.4,258.4 L244.4,258.4 L244.1,255.1 L241.9,249.4 L238.1,246.1 L233.1,239.9 L229.9,236.9 L229.1,235.1 L227.9,229.6 L229.9,223.9 L230.9,218.4 L228.9,210.6 L228.9,208.1 L227.6,207.9 L226.4,206.4 L226.4,203.9 L228.6,199.1 L224.4,191.6Z" fill="#8fbae9"/>
<path d="M208.1,209.4 L207.6,208.1 L206.1,208.1 L200.9,204.9 L196.4,203.6 L184.9,205.6 L179.9,207.6 L177.6,209.4 L177.1,210.4 L177.9,213.4 L180.9,217.9 L184.4,220.4 L188.1,220.6 L189.6,221.9 L189.9,222.6 L199.9,220.6 L205.9,218.1 L207.1,216.9 L208.4,212.4Z" fill="#e5effa"/>
<path d="M281.6,183.1 L280.4,183.6 L279.4,183.4 L275.1,180.4 L273.6,181.4 L272.4,183.6 L273.1,186.4 L274.6,189.4 L274.9,193.4 L273.6,194.9 L272.1,195.4 L270.4,194.9 L266.9,190.6 L259.9,192.4 L256.6,191.6 L254.9,190.1 L252.1,185.1 L250.6,184.6 L249.9,190.6 L248.6,193.6 L243.9,200.6 L241.9,208.9 L240.4,210.1 L239.4,210.4 L237.9,209.9 L234.1,204.6 L232.1,205.6 L230.6,207.9 L228.9,208.6 L231.1,218.4 L230.1,223.9 L228.1,229.6 L229.4,235.1 L230.1,236.9 L233.4,239.9 L238.4,246.1 L241.6,249.1 L247.6,243.1 L254.4,240.6 L260.9,239.4 L270.6,239.9 L279.4,242.4 L288.1,244.1 L292.4,244.4 L295.4,243.9 L295.1,242.6 L288.1,231.9 L285.6,226.6 L285.6,223.9 L286.4,221.4 L289.4,216.1 L285.4,211.6 L282.9,206.4 L282.6,198.9 L283.4,192.9 L283.4,188.1Z" fill="#2d7fd5"/>
<path d="M331.1,164.4 L326.1,162.9 L314.6,165.9 L308.9,165.1 L301.6,165.9 L296.6,169.4 L286.4,172.1 L283.1,175.1 L283.1,181.6 L281.9,183.1 L283.6,188.1 L283.6,192.9 L282.9,198.9 L283.1,206.4 L285.6,211.6 L289.9,216.4 L298.9,215.9 L302.1,213.4 L307.6,207.9 L312.4,205.1 L317.6,203.9 L325.1,198.1 L325.4,196.4 L323.6,192.4 L324.1,185.9 L327.6,182.1 L336.6,178.6 L336.1,177.4 L336.6,173.6 L333.6,169.6Z" fill="#e2edf9"/>
<path d="M343.6,179.1 L338.9,179.4 L336.9,178.4 L336.4,179.1 L330.1,181.1 L327.6,182.4 L324.4,185.9 L323.9,192.4 L325.6,196.4 L325.6,197.6 L324.6,198.9 L317.6,204.1 L312.4,205.4 L307.6,208.1 L302.1,213.6 L298.9,216.1 L293.9,216.6 L289.6,216.4 L287.9,218.6 L286.1,222.9 L285.9,226.6 L288.4,231.9 L295.4,242.6 L295.9,244.1 L303.4,245.1 L308.6,246.6 L315.6,247.9 L318.9,248.1 L331.4,246.6 L337.1,248.6 L339.4,248.6 L334.1,243.1 L332.6,238.9 L332.1,231.6 L333.9,228.1 L335.1,226.9 L339.4,224.4 L349.9,221.6 L355.9,218.6 L355.1,217.6 L355.4,215.6 L345.1,210.9 L340.4,206.4 L338.4,200.9 L337.4,195.1 L337.4,192.6 L339.9,182.6 L343.9,180.6 L344.1,180.1Z" fill="#76ace4"/>
<path d="M340.4,182.4 L337.6,192.6 L337.6,195.1 L338.6,200.9 L340.6,206.4 L345.1,210.6 L355.1,215.4 L357.9,214.1 L366.9,215.4 L369.4,214.1 L371.4,208.9 L369.4,204.1 L366.9,200.1 L366.9,198.4 L368.4,193.1 L374.4,185.1 L361.6,183.9 L351.6,181.9 L346.4,181.4 L344.4,180.4 L343.1,181.4Z" fill="#d3e4f6"/>
<path d="M241.9,249.1 L244.4,255.1 L244.9,258.6 L252.6,262.4 L260.6,268.4 L263.6,269.6 L265.1,269.4 L270.9,270.9 L288.9,281.6 L290.9,282.4 L296.1,282.6 L304.4,280.4 L309.1,280.6 L312.9,282.1 L317.1,286.4 L321.1,292.4 L326.4,295.4 L331.9,296.6 L338.1,293.1 L342.6,291.6 L344.9,291.4 L344.9,290.4 L339.9,285.4 L336.9,280.6 L334.4,271.1 L333.9,265.1 L334.4,257.4 L335.4,255.1 L338.1,251.9 L340.4,250.1 L339.6,248.9 L338.1,249.1 L331.4,246.9 L318.9,248.4 L315.6,248.1 L295.6,244.1 L292.4,244.6 L286.4,244.1 L270.6,240.1 L260.9,239.6 L254.4,240.9 L248.1,243.1Z" fill="#80b2e6"/>
<path d="M268.4,282.6 L263.9,278.4 L263.9,272.4 L263.4,271.9 L263.4,269.6 L260.6,268.6 L252.6,262.6 L244.6,258.6 L234.4,258.6 L229.6,260.4 L222.6,261.6 L217.1,263.4 L212.4,266.4 L207.6,275.4 L203.1,278.6 L202.9,280.6 L196.9,285.1 L192.9,290.6 L195.1,291.6 L201.4,287.9 L208.6,281.9 L211.1,279.4 L214.1,275.1 L219.1,270.6 L222.6,269.4 L227.6,268.4 L233.9,268.4 L238.6,269.4 L245.9,272.4 L249.4,274.9 L264.4,283.1 L268.4,283.6Z" fill="#d4e5f7"/>
<path d="M263.9,269.9 L263.6,271.9 L264.1,272.4 L264.1,278.4 L268.6,282.6 L268.6,283.6 L270.6,285.4 L273.6,291.4 L275.4,301.1 L280.9,322.9 L281.6,323.1 L282.9,324.6 L283.1,327.9 L286.9,333.9 L292.1,339.1 L301.1,351.1 L305.6,353.4 L310.4,352.6 L313.6,351.1 L315.1,351.6 L319.6,347.6 L320.9,345.4 L322.4,344.1 L322.6,337.4 L323.9,332.6 L323.9,330.1 L325.4,326.1 L325.4,319.9 L327.1,313.4 L330.6,307.4 L335.6,304.4 L335.4,303.1 L334.6,302.6 L332.1,296.9 L326.4,295.6 L321.1,292.6 L316.9,286.4 L312.9,282.4 L308.4,280.6 L304.4,280.6 L296.1,282.9 L290.9,282.6 L284.1,279.4 L270.9,271.1 L265.1,269.6Z" fill="#9ec4ec"/>
<path d="M332.4,296.9 L334.9,302.6 L335.6,303.1 L335.9,304.6 L341.1,307.4 L347.6,308.6 L351.1,312.6 L353.4,320.1 L354.1,327.9 L356.9,334.1 L362.9,339.6 L369.4,336.1 L381.9,331.9 L382.1,330.9 L380.4,323.6 L378.1,317.6 L373.6,308.9 L368.1,305.1 L353.9,298.1 L348.6,293.9 L346.1,292.9 L345.1,291.6 L342.6,291.9 L338.1,293.4Z" fill="#b8d4f1"/>
<path d="M335.6,304.6 L330.9,307.4 L327.4,313.4 L325.6,319.9 L325.6,326.1 L324.1,330.1 L324.1,332.6 L322.9,337.4 L322.6,344.1 L329.4,347.6 L332.4,348.6 L337.9,354.4 L341.4,356.1 L343.1,356.1 L348.6,353.4 L356.6,350.6 L361.1,348.4 L362.6,345.9 L363.6,342.6 L362.6,339.4 L356.6,334.1 L353.9,327.9 L353.1,320.1 L350.9,312.6 L347.6,308.9 L341.1,307.6Z" fill="#ddeaf8"/>
<path d="M315.4,351.6 L316.6,353.1 L316.6,358.9 L319.6,364.9 L324.4,369.9 L327.9,371.9 L330.1,374.1 L338.4,385.4 L359.4,399.4 L374.9,402.1 L380.1,401.4 L383.1,400.1 L384.1,395.1 L386.6,393.4 L385.9,390.9 L385.9,383.9 L379.6,380.4 L375.4,379.4 L368.4,375.9 L360.4,370.6 L358.1,367.1 L358.6,363.4 L359.9,359.6 L361.9,349.1 L361.4,348.6 L360.6,348.6 L356.6,350.9 L348.6,353.6 L343.1,356.4 L341.4,356.4 L337.9,354.6 L332.4,348.9 L329.4,347.9 L322.4,344.4 L321.1,345.4 L319.9,347.6Z" fill="#78ace4"/>
<path d="M381.1,332.1 L369.4,336.4 L363.1,339.9 L363.9,342.6 L362.9,345.9 L361.4,348.4 L362.1,349.1 L360.1,359.6 L358.9,363.4 L358.4,367.1 L360.4,370.4 L369.6,376.4 L375.4,379.1 L379.6,380.1 L384.6,383.1 L386.4,383.6 L389.6,382.4 L397.1,376.6 L401.9,376.1 L406.6,371.9 L411.6,369.4 L410.9,367.4 L402.9,358.1 L391.6,350.4 L388.9,347.6 L386.4,344.4 L384.1,337.9 L381.9,333.4 L381.9,332.1Z" fill="#d7e6f7"/>
<path d="M422.9,376.6 L421.6,376.4 L420.6,375.4 L419.6,373.1 L416.1,371.4 L413.1,370.9 L411.1,369.6 L406.6,372.1 L401.9,376.4 L397.1,376.9 L389.6,382.6 L386.1,383.9 L386.1,390.9 L386.9,393.4 L388.9,394.1 L397.1,393.1 L406.4,392.9 L414.4,395.1 L420.9,395.6 L421.1,394.4 L420.1,389.9 L421.1,385.9 L421.6,380.9Z" fill="#e1ecf9"/>
<path d="M422.9,376.9 L420.4,389.9 L421.4,394.4 L421.1,395.6 L425.1,400.1 L432.6,405.1 L436.6,408.9 L443.4,407.6 L448.6,407.6 L453.1,408.4 L460.6,414.1 L468.4,417.1 L471.6,419.4 L473.6,421.4 L476.1,427.4 L478.4,430.1 L479.6,429.9 L481.9,430.6 L487.9,429.4 L494.6,428.6 L502.1,430.9 L507.1,434.1 L513.1,440.1 L519.9,450.9 L524.1,455.6 L527.6,454.6 L530.4,449.1 L529.6,441.6 L526.1,434.6 L519.6,428.1 L511.9,422.6 L486.1,412.6 L454.1,396.6 L452.1,394.6 L449.6,390.9 L449.1,386.6 L451.4,382.6 L454.4,378.6 L452.6,374.9 L447.1,374.1 L437.6,374.1 L430.9,374.9 L426.1,376.4Z" fill="#c4dbf3"/>
<path d="M384.4,395.1 L383.1,400.6 L384.4,400.9 L385.4,401.9 L388.4,409.4 L395.1,418.1 L403.1,424.4 L410.9,426.4 L416.1,431.6 L419.6,438.9 L431.1,450.1 L434.6,450.1 L440.6,446.1 L442.1,445.6 L442.6,445.9 L443.1,441.9 L442.1,438.1 L435.1,427.6 L431.4,420.6 L430.1,416.1 L430.9,412.1 L436.1,409.4 L436.4,408.6 L432.6,405.4 L425.1,400.4 L421.1,395.9 L414.4,395.4 L406.4,393.1 L397.1,393.4 L388.9,394.4 L386.6,393.6Z" fill="#b5d2f0"/>
<path d="M431.4,411.9 L430.4,416.1 L431.6,420.6 L436.9,430.1 L442.1,437.6 L443.4,441.9 L442.9,445.9 L444.6,447.1 L446.1,451.1 L448.6,453.1 L448.9,454.6 L462.4,453.9 L465.9,453.1 L468.6,451.6 L468.9,451.1 L467.9,449.9 L466.9,446.4 L466.9,444.4 L468.1,440.4 L471.4,435.4 L473.1,433.6 L478.1,430.4 L475.9,427.4 L473.4,421.4 L469.4,417.9 L460.6,414.4 L452.4,408.4 L443.4,407.9 L440.1,408.6 L437.9,408.6Z" fill="#dbe9f8"/>
<path d="M469.1,451.4 L465.9,453.4 L462.4,454.1 L448.9,454.9 L447.9,456.4 L447.9,460.1 L448.6,464.1 L454.1,474.6 L456.9,486.6 L460.4,493.4 L460.9,495.9 L460.9,498.6 L458.9,502.4 L453.9,507.9 L451.1,518.1 L447.6,524.9 L445.6,530.4 L446.4,536.6 L451.1,539.1 L455.6,538.1 L458.6,535.1 L460.6,528.4 L463.1,524.6 L468.1,519.6 L471.1,513.6 L471.1,506.9 L472.6,501.4 L477.9,497.9 L488.1,494.9 L490.4,491.9 L488.9,486.1 L488.1,479.6 L483.1,474.4 L477.4,470.1 L471.6,467.4 L470.6,466.4 L469.1,463.4 L469.1,460.4 L469.6,458.6 L469.6,451.6Z" fill="#dbe9f8"/>
<path d="M440.4,526.1 L430.4,529.9 L423.4,531.6 L414.9,532.6 L400.9,536.4 L386.6,537.9 L380.6,539.1 L374.9,537.1 L370.6,536.4 L367.1,532.6 L362.4,532.6 L358.9,534.1 L351.9,536.1 L344.9,537.1 L342.4,540.4 L340.4,544.4 L340.9,547.6 L344.9,553.1 L361.9,558.6 L372.9,564.1 L378.6,568.9 L384.4,572.6 L398.9,576.1 L403.1,577.6 L405.1,579.1 L408.4,583.9 L413.1,587.1 L419.6,589.4 L426.6,591.1 L427.6,587.1 L432.1,576.4 L427.6,563.4 L428.4,553.6 L434.1,538.9Z" fill="#cde1f5"/>
<path d="M239.6,403.1 L237.4,404.4 L227.9,412.6 L221.9,415.6 L216.6,417.6 L209.1,418.4 L207.1,419.4 L207.1,422.9 L210.9,430.9 L212.6,436.9 L213.1,441.9 L212.6,450.4 L213.1,453.6 L214.6,456.6 L214.6,458.1 L213.1,460.9 L213.9,463.9 L213.9,466.4 L212.6,470.6 L210.9,483.9 L212.6,489.9 L217.4,494.6 L221.6,497.6 L225.9,496.4 L227.9,492.9 L228.4,487.9 L230.9,485.6 L234.6,484.6 L245.4,488.1 L245.9,487.1 L247.4,473.9 L250.6,457.4 L251.1,450.1 L250.4,444.4 L251.6,437.9 L255.1,433.1 L254.1,429.4 L251.1,423.6 L245.6,409.4 L243.1,406.1Z" fill="#dbe9f8"/>
</g>
<path d="M469.6,451.6 L468.1,450.4 L467.9,449.1 L467.4,449.1 L465.4,450.4 L462.4,451.1 L458.4,451.4 L458.1,451.6 L451.4,451.6 L451.1,451.9 L447.9,452.1 L448.9,453.6 L448.9,455.1 L447.9,456.4 L447.9,457.4 L448.9,457.6 L458.1,457.4 L458.4,457.1 L462.4,456.9 L466.9,455.9 L469.6,454.4ZM210.1,206.6 L208.9,207.9 L207.4,208.4 L206.1,208.1 L205.1,207.4 L204.9,208.4 L205.4,209.6 L205.6,212.4 L204.9,215.1 L204.4,215.9 L199.6,217.9 L193.9,219.1 L192.6,219.1 L188.4,220.4 L188.1,220.6 L189.9,222.4 L189.9,223.9 L188.9,225.4 L190.4,225.6 L192.6,224.9 L193.9,224.9 L200.9,223.4 L203.9,222.4 L207.4,220.6 L209.9,217.9 L211.4,212.4 L211.1,209.4ZM226.4,207.1 L225.9,209.1 L226.9,213.9 L227.9,216.4 L227.9,218.1 L228.1,218.4 L227.4,222.9 L225.1,229.6 L225.1,230.6 L226.4,234.4 L226.6,236.1 L227.6,238.4 L230.9,241.4 L235.9,247.6 L239.9,251.4 L240.4,253.4 L241.4,255.4 L241.1,255.6 L240.6,255.4 L234.4,255.6 L228.6,257.6 L221.6,258.9 L220.9,259.4 L216.1,260.6 L213.6,261.9 L210.9,263.9 L209.4,265.4 L205.9,272.4 L205.9,272.9 L204.4,274.4 L201.9,275.9 L200.9,276.9 L201.9,277.1 L203.1,278.6 L203.1,280.1 L202.4,281.1 L203.1,281.4 L205.6,280.4 L209.9,276.9 L210.6,275.9 L213.9,268.9 L216.6,266.6 L220.4,265.1 L221.1,265.1 L223.9,264.1 L225.4,264.1 L230.6,262.9 L234.4,261.4 L240.6,261.1 L242.4,261.6 L244.1,261.4 L251.1,264.9 L257.6,269.9 L260.4,271.4 L261.1,273.1 L261.1,278.4 L261.6,279.9 L264.9,283.1 L268.6,283.6 L270.6,285.4 L271.4,283.6 L271.1,281.6 L266.9,277.4 L266.9,273.1 L267.1,272.9 L269.1,273.4 L271.1,274.4 L282.6,281.6 L289.9,285.1 L293.1,285.4 L293.4,285.6 L293.6,285.4 L296.1,285.6 L304.4,283.4 L308.1,283.4 L311.4,284.6 L314.6,287.9 L317.9,293.1 L319.6,294.9 L325.4,298.1 L329.9,299.1 L330.9,300.1 L332.1,303.4 L329.6,304.6 L328.4,305.9 L324.6,312.4 L324.4,314.1 L322.6,319.9 L322.9,320.6 L322.6,325.6 L321.1,330.1 L321.1,332.6 L319.9,337.4 L319.6,342.9 L318.6,343.9 L317.4,346.1 L315.6,347.4 L312.9,350.1 L312.4,351.6 L313.6,351.1 L314.9,351.4 L316.4,352.6 L316.6,353.9 L316.9,353.9 L318.6,352.1 L320.1,351.1 L322.1,349.1 L323.1,347.6 L328.4,350.4 L330.9,351.1 L336.4,356.9 L341.4,359.1 L344.1,358.9 L346.6,357.9 L349.6,356.1 L358.1,353.1 L358.4,353.4 L357.9,354.6 L357.1,359.6 L356.4,361.4 L355.4,365.9 L355.6,368.1 L357.4,371.4 L358.9,372.9 L369.9,379.9 L372.1,380.6 L374.4,381.9 L378.4,382.9 L382.6,385.1 L383.4,386.1 L383.4,387.9 L383.1,388.1 L383.4,392.1 L381.6,394.1 L380.4,398.9 L380.4,400.1 L380.1,400.4 L380.4,401.1 L382.9,400.4 L384.4,400.9 L385.4,401.9 L385.9,401.1 L386.4,397.6 L386.9,396.6 L388.9,397.1 L389.1,396.9 L396.9,396.4 L397.1,396.1 L401.6,396.1 L401.9,395.9 L405.1,395.9 L405.4,396.1 L406.4,395.9 L414.4,398.1 L419.9,398.6 L425.1,403.9 L430.4,407.1 L431.9,408.4 L429.9,409.4 L428.4,411.1 L427.4,415.1 L427.9,418.6 L428.9,421.6 L432.9,429.1 L436.1,434.4 L439.6,439.1 L440.4,441.9 L440.4,443.1 L439.9,444.6 L440.1,446.6 L440.6,446.1 L442.1,445.6 L443.6,446.1 L444.9,447.6 L445.6,445.9 L446.1,441.9 L445.1,437.9 L444.4,436.1 L439.1,428.6 L433.6,418.4 L433.1,416.1 L433.4,414.1 L438.4,411.4 L440.1,411.4 L443.4,410.6 L448.6,410.6 L448.9,410.9 L451.9,411.1 L459.1,416.6 L463.4,418.6 L467.4,419.9 L470.1,421.9 L471.1,422.9 L471.9,424.4 L472.1,425.9 L473.6,428.9 L475.9,431.6 L478.4,430.1 L479.4,429.9 L480.9,430.4 L481.1,430.1 L480.6,428.4 L478.4,425.9 L475.9,419.9 L473.1,417.1 L470.9,415.4 L462.1,411.9 L458.9,409.6 L455.4,406.6 L453.4,405.6 L450.9,405.1 L448.9,405.1 L448.6,404.9 L443.4,404.9 L443.1,405.1 L437.4,405.9 L434.1,402.9 L428.1,399.1 L424.1,394.9 L423.1,390.9 L423.4,388.4 L424.1,385.9 L424.6,380.9 L425.6,377.6 L425.4,376.4 L424.1,376.9 L422.1,376.6 L420.6,375.1 L420.1,375.9 L418.9,380.9 L418.4,385.9 L417.4,389.9 L417.9,392.4 L417.6,392.6 L414.4,392.4 L409.9,390.9 L406.4,390.1 L405.4,390.4 L405.1,390.1 L397.1,390.4 L396.9,390.6 L389.4,391.1 L388.9,390.6 L388.9,388.1 L389.4,385.6 L391.1,384.9 L397.4,379.9 L401.1,379.4 L403.4,378.6 L404.9,377.6 L408.1,374.4 L411.1,372.6 L413.1,371.9 L413.9,371.1 L413.9,370.9 L412.6,370.6 L411.6,369.6 L411.4,368.1 L410.4,366.9 L405.1,369.6 L401.1,373.4 L399.6,373.9 L396.1,374.1 L394.4,375.1 L388.1,380.1 L386.1,380.9 L380.6,377.6 L376.4,376.6 L374.1,375.4 L372.9,375.1 L367.1,371.6 L361.9,367.9 L361.1,366.6 L361.1,365.9 L362.9,359.6 L363.6,354.6 L364.9,350.1 L364.6,348.1 L365.4,346.9 L366.6,342.6 L366.1,341.4 L370.4,338.9 L382.6,334.6 L381.9,333.4 L382.1,330.9 L381.6,329.1 L380.1,329.4 L368.4,333.6 L365.4,335.1 L363.6,336.4 L358.9,332.1 L356.9,327.4 L356.1,320.1 L354.4,314.4 L354.1,312.6 L353.4,311.1 L349.1,306.4 L347.1,305.6 L342.1,304.9 L338.4,302.9 L337.9,301.6 L337.1,300.9 L335.9,297.9 L339.1,295.9 L342.9,294.6 L345.6,294.4 L347.1,293.1 L346.1,292.9 L345.1,291.9 L344.9,290.4 L343.4,288.9 L341.6,289.1 L337.1,290.6 L334.6,291.9 L331.9,293.9 L327.4,292.9 L323.1,290.4 L319.4,284.9 L314.4,279.9 L308.4,277.6 L304.4,277.6 L296.1,279.9 L294.4,279.9 L294.1,279.6 L293.4,279.9 L289.9,279.1 L285.6,276.9 L281.6,274.1 L271.9,268.4 L265.1,266.6 L264.1,266.9 L262.1,266.1 L254.1,260.1 L247.9,257.1 L247.4,256.6 L246.9,254.1 L245.6,251.4 L245.1,249.4 L249.1,245.6 L254.6,243.6 L260.9,242.4 L265.9,242.4 L266.1,242.6 L270.6,242.9 L276.4,244.6 L281.6,245.9 L283.1,245.9 L286.4,246.9 L290.4,247.1 L290.6,247.4 L290.9,247.1 L292.4,247.4 L292.6,247.1 L295.1,247.1 L295.6,246.9 L299.6,247.9 L303.4,248.1 L308.6,249.6 L309.6,249.6 L312.1,250.4 L315.4,250.6 L315.6,250.9 L318.9,251.1 L322.9,250.4 L331.1,249.6 L338.1,251.9 L339.6,250.4 L340.4,250.1 L339.1,248.1 L336.4,245.4 L332.4,244.1 L330.1,243.9 L329.9,244.1 L325.1,244.4 L324.9,244.6 L322.9,244.6 L322.6,244.9 L318.1,245.4 L317.9,245.1 L312.1,244.6 L303.4,242.4 L301.4,242.4 L297.9,241.6 L290.6,230.4 L288.6,226.1 L288.6,223.9 L290.1,220.1 L291.1,219.1 L292.9,219.1 L293.1,219.4 L298.1,219.1 L300.4,218.4 L303.6,215.9 L309.1,210.4 L313.4,207.9 L319.1,206.4 L326.1,201.1 L327.6,199.6 L328.4,197.6 L328.1,195.4 L326.6,191.9 L326.9,187.1 L329.1,184.6 L331.1,183.6 L336.9,181.6 L337.4,181.9 L335.4,189.1 L335.1,191.4 L334.6,192.6 L334.6,195.1 L334.9,195.4 L335.9,201.9 L338.1,207.9 L343.6,213.1 L354.1,218.1 L355.4,218.4 L355.1,216.1 L356.4,214.6 L357.6,214.4 L357.6,213.9 L355.6,212.4 L352.4,211.1 L347.1,208.4 L346.6,208.4 L343.1,205.1 L341.1,199.6 L341.1,198.4 L340.4,195.1 L340.4,192.6 L342.4,184.6 L345.4,183.1 L346.9,181.4 L344.9,180.9 L343.9,179.9 L343.6,179.1 L340.9,179.1 L339.6,179.6 L337.4,178.9 L336.1,177.4 L336.1,175.9 L335.6,175.9 L334.6,176.6 L329.1,178.4 L326.1,179.9 L321.9,184.4 L321.4,185.9 L320.9,192.4 L322.6,196.6 L316.9,201.1 L315.9,201.6 L311.4,202.6 L306.1,205.6 L300.6,211.1 L297.6,213.4 L294.1,213.4 L293.9,213.6 L290.6,213.4 L287.9,210.1 L285.9,206.4 L285.6,198.9 L285.9,198.6 L285.9,195.9 L286.1,195.6 L286.1,193.1 L286.4,192.9 L286.4,188.1 L284.9,183.1 L284.1,181.6 L283.4,180.9 L283.1,180.9 L282.9,182.1 L281.9,183.1 L280.4,183.6 L278.9,183.1 L280.6,188.1 L280.6,192.9 L280.4,193.1 L280.1,198.6 L279.9,198.9 L280.1,206.4 L280.6,208.4 L282.6,212.4 L285.9,216.4 L284.4,219.1 L282.9,223.9 L282.9,226.6 L285.9,233.4 L290.9,241.1 L290.6,241.6 L290.4,241.4 L286.4,241.1 L283.1,240.1 L279.4,239.6 L270.6,237.1 L266.1,236.9 L265.9,236.6 L260.9,236.6 L253.4,238.1 L246.1,240.9 L241.4,245.4 L235.6,238.4 L232.4,235.4 L231.1,231.4 L230.9,229.9 L232.6,224.9 L233.9,218.6 L233.1,214.4 L232.1,211.9 L231.6,207.4 L231.4,207.1 L230.6,207.9 L229.1,208.4 L227.6,207.9 L226.6,206.9ZM335.6,307.6 L340.1,310.1 L343.1,310.9 L345.6,311.1 L348.6,314.1 L350.4,320.1 L351.1,327.9 L352.6,331.9 L354.4,335.6 L360.4,341.1 L360.6,343.4 L359.4,346.1 L355.6,348.1 L347.6,350.9 L345.6,352.1 L342.6,353.4 L341.9,353.4 L339.4,352.1 L333.9,346.4 L330.4,345.1 L325.4,342.4 L325.6,337.4 L326.9,332.6 L326.9,330.6 L328.4,326.1 L328.4,322.1 L328.6,321.9 L328.4,319.9 L329.6,316.1 L329.9,314.4 L332.9,309.4 L334.9,308.4Z" fill="#b0b0b0" fill-opacity="0.6" fill-rule="evenodd" filter="url(#soft2)"/>
<path d="M469.6,451.6 L467.9,450.1 L465.4,451.6 L464.4,451.6 L461.9,452.4 L457.9,452.6 L457.6,452.9 L448.6,453.1 L448.9,455.1 L448.1,456.1 L448.4,456.4 L458.6,456.1 L458.9,455.9 L461.1,455.9 L461.4,455.6 L464.1,455.4 L465.4,454.9 L466.4,454.9 L469.6,453.1ZM209.4,207.6 L207.4,208.4 L206.1,208.1 L206.9,211.9 L205.9,215.6 L204.9,216.9 L202.4,218.1 L199.4,219.1 L189.4,221.1 L189.1,221.4 L189.9,222.4 L189.6,224.4 L190.9,224.4 L193.1,223.6 L194.4,223.6 L199.4,222.4 L200.4,222.4 L203.4,221.4 L206.9,219.6 L208.9,217.4 L210.1,212.9 L210.1,210.6ZM343.1,179.1 L341.6,180.1 L339.4,180.9 L338.4,182.1 L335.9,192.1 L335.9,195.6 L336.1,195.9 L336.9,201.4 L339.1,207.4 L344.1,212.1 L354.6,217.1 L355.1,217.1 L355.4,215.6 L356.6,214.4 L354.6,213.1 L354.1,213.1 L346.6,209.4 L346.1,209.4 L342.1,205.6 L340.1,200.4 L339.4,194.9 L339.1,194.6 L339.1,193.1 L341.4,184.1 L342.1,183.4 L344.1,182.6 L345.6,181.4 L343.9,179.9 L343.6,179.1ZM227.4,207.6 L227.1,208.1 L227.4,211.1 L229.1,216.9 L229.1,219.6 L228.9,219.9 L228.6,222.4 L226.4,229.1 L226.4,231.1 L227.4,233.9 L227.6,235.6 L228.6,237.9 L231.9,240.9 L236.9,247.1 L240.9,250.9 L242.9,256.6 L242.6,256.9 L241.4,256.9 L241.1,256.6 L233.9,256.9 L229.1,258.6 L226.1,259.1 L224.9,259.6 L222.1,259.9 L221.4,260.4 L216.6,261.6 L214.1,262.9 L210.4,265.9 L206.9,272.9 L206.9,273.4 L204.9,275.4 L202.1,277.1 L203.1,278.6 L203.1,280.1 L205.1,279.4 L208.9,276.4 L209.6,275.4 L213.1,267.9 L216.1,265.6 L219.9,264.1 L222.4,263.6 L223.1,263.1 L225.9,262.9 L227.1,262.4 L230.1,261.9 L234.9,260.1 L240.1,259.9 L241.9,260.4 L244.6,260.4 L251.6,263.9 L259.6,269.9 L261.9,270.9 L261.9,272.4 L262.4,273.1 L262.4,278.9 L262.6,279.4 L266.9,283.4 L268.6,283.6 L269.9,284.6 L270.1,284.1 L269.9,281.6 L265.6,277.6 L265.6,271.9 L265.9,271.6 L268.9,272.1 L271.6,273.4 L283.1,280.6 L290.4,284.1 L296.6,284.4 L304.9,282.1 L307.9,282.1 L311.9,283.6 L315.6,287.4 L318.9,292.6 L320.1,293.9 L325.9,297.1 L330.6,298.1 L331.9,299.6 L333.4,303.4 L332.4,304.6 L330.1,305.6 L329.4,306.4 L325.6,312.9 L325.4,314.6 L323.9,319.4 L323.9,320.9 L324.1,321.1 L323.9,321.6 L323.9,325.6 L323.4,326.4 L322.9,328.9 L322.4,329.6 L322.4,332.1 L321.1,336.9 L320.9,343.1 L319.6,344.4 L318.4,346.6 L316.1,348.4 L313.6,351.1 L315.4,351.6 L316.4,352.9 L321.1,348.6 L322.4,346.4 L322.9,346.1 L323.4,346.6 L326.4,347.9 L328.9,349.4 L331.4,350.1 L336.9,355.9 L340.9,357.9 L343.6,357.9 L346.1,356.9 L349.1,355.1 L357.1,352.4 L359.6,351.1 L359.9,351.9 L359.1,354.1 L358.4,359.1 L357.4,361.9 L356.6,365.4 L356.6,367.6 L358.4,370.9 L359.4,371.9 L370.4,378.9 L372.6,379.6 L374.9,380.9 L378.9,381.9 L384.1,384.9 L384.6,386.6 L384.4,391.4 L384.9,392.4 L382.6,394.6 L381.9,397.1 L381.4,400.9 L382.9,400.4 L384.6,401.1 L385.6,396.4 L386.6,395.4 L387.9,395.9 L389.4,395.9 L389.6,395.6 L397.4,395.1 L397.6,394.9 L402.1,394.9 L402.4,394.6 L407.4,394.9 L413.9,396.9 L420.4,397.4 L424.1,401.6 L426.6,403.6 L431.6,406.6 L433.6,408.6 L433.1,409.1 L430.4,410.4 L429.4,411.6 L428.6,414.6 L428.6,416.6 L429.1,419.1 L429.9,421.1 L433.9,428.6 L437.1,433.9 L440.6,438.6 L441.6,442.4 L441.1,444.1 L441.1,445.9 L442.1,445.6 L443.1,445.9 L444.1,446.6 L444.4,446.4 L444.4,445.1 L444.9,443.6 L444.9,441.4 L444.1,438.4 L443.4,436.6 L438.1,429.1 L434.9,422.9 L433.4,420.6 L432.4,418.1 L431.9,415.6 L432.4,413.4 L432.9,412.9 L438.4,410.1 L440.6,410.1 L443.9,409.4 L448.1,409.4 L448.4,409.6 L451.9,409.9 L459.6,415.6 L463.9,417.6 L467.9,418.9 L470.6,420.9 L472.1,422.4 L472.9,423.9 L473.1,425.4 L474.6,428.4 L476.9,431.1 L478.4,430.1 L479.4,429.9 L479.9,430.1 L479.6,428.9 L477.4,426.4 L474.9,420.4 L470.4,416.4 L461.6,412.9 L458.4,410.6 L454.9,407.6 L452.9,406.6 L449.4,406.4 L449.1,406.1 L442.9,406.1 L442.6,406.4 L441.4,406.4 L439.6,406.9 L437.4,406.9 L437.1,407.1 L433.6,403.9 L429.4,401.4 L426.1,398.9 L422.9,395.1 L422.6,392.6 L421.9,390.4 L422.9,386.4 L422.9,384.6 L423.4,382.9 L423.4,381.4 L424.4,378.1 L424.4,376.6 L423.1,376.9 L421.4,376.1 L421.1,376.4 L420.1,380.4 L419.6,385.4 L418.6,389.4 L418.6,391.4 L419.4,393.6 L419.1,394.1 L416.9,393.6 L414.9,393.6 L406.9,391.4 L396.6,391.6 L396.4,391.9 L388.6,392.4 L388.1,391.9 L387.6,390.4 L387.6,388.6 L387.9,388.4 L387.9,385.6 L387.6,385.1 L390.6,383.9 L397.6,378.4 L400.1,378.4 L402.9,377.6 L404.4,376.6 L407.6,373.4 L410.6,371.6 L412.9,370.6 L411.6,369.6 L411.1,367.9 L410.6,367.9 L405.6,370.6 L401.6,374.4 L400.6,374.9 L396.6,375.1 L395.6,375.6 L388.6,381.1 L386.6,381.9 L385.6,381.9 L380.1,378.6 L379.1,378.6 L378.4,378.1 L375.9,377.6 L373.6,376.4 L372.4,376.1 L361.1,368.9 L359.9,366.4 L360.6,362.9 L361.6,360.1 L362.4,355.1 L363.6,350.6 L363.4,348.1 L364.4,346.4 L365.4,343.1 L365.4,342.1 L364.9,340.9 L369.9,337.9 L382.1,333.6 L381.9,333.4 L382.1,330.9 L381.9,330.4 L380.6,330.4 L374.9,332.4 L374.1,332.9 L368.9,334.6 L363.6,337.6 L363.1,337.6 L358.1,333.1 L355.6,327.4 L354.9,319.6 L353.4,314.9 L353.1,313.1 L352.4,311.6 L348.6,307.4 L347.6,306.9 L342.4,306.1 L337.9,303.9 L336.1,301.4 L334.6,297.9 L334.9,297.1 L338.6,294.9 L343.1,293.4 L345.6,293.1 L345.9,292.6 L345.1,291.9 L344.9,290.4 L344.4,289.9 L344.1,290.1 L342.1,290.1 L337.6,291.6 L335.1,292.9 L332.4,294.9 L327.6,294.1 L322.1,291.1 L318.4,285.4 L313.9,280.9 L308.9,278.9 L303.9,278.9 L295.6,281.1 L291.4,280.9 L285.1,277.9 L281.1,275.1 L271.4,269.4 L265.6,267.9 L263.6,267.9 L261.6,267.1 L253.6,261.1 L246.1,257.4 L245.9,254.6 L244.6,251.9 L243.9,249.1 L248.6,244.6 L254.9,242.4 L258.6,241.9 L261.4,241.1 L265.4,241.1 L265.6,241.4 L270.1,241.6 L276.9,243.6 L279.9,244.1 L281.1,244.6 L282.6,244.6 L285.9,245.6 L289.9,245.9 L290.1,246.1 L296.4,245.9 L299.1,246.6 L302.9,246.9 L308.1,248.4 L309.1,248.4 L311.6,249.1 L314.9,249.4 L315.1,249.6 L319.4,249.9 L321.4,249.4 L330.9,248.4 L337.6,250.6 L339.4,250.6 L340.4,250.1 L338.1,247.1 L331.9,245.1 L324.6,245.6 L324.4,245.9 L322.4,245.9 L320.1,246.4 L316.1,246.4 L315.9,246.1 L312.6,245.9 L310.1,245.1 L309.1,245.1 L303.9,243.6 L301.9,243.6 L298.9,242.9 L297.6,242.9 L296.9,242.4 L293.6,237.4 L292.9,235.6 L291.1,233.4 L287.4,226.1 L287.4,224.4 L288.1,221.9 L289.1,219.6 L290.6,217.9 L294.4,218.1 L294.6,217.9 L298.6,217.9 L299.9,217.4 L303.1,214.9 L308.6,209.4 L312.9,206.9 L318.6,205.4 L326.6,199.1 L327.1,198.1 L327.1,195.9 L325.4,191.9 L325.6,191.4 L325.9,186.6 L328.6,183.6 L330.6,182.6 L337.4,180.4 L338.4,179.1 L337.4,178.9 L336.4,177.9 L336.1,176.9 L335.1,177.6 L329.6,179.4 L326.6,180.9 L322.9,184.9 L322.4,186.6 L322.1,192.9 L323.9,196.9 L323.6,197.4 L317.4,202.1 L316.4,202.6 L311.9,203.6 L307.4,206.1 L301.1,212.1 L297.6,214.6 L290.4,214.6 L286.4,209.9 L284.9,206.9 L284.6,204.4 L284.4,204.1 L284.4,199.4 L284.6,199.1 L284.6,196.4 L284.9,196.1 L284.9,193.6 L285.1,193.4 L285.1,187.6 L283.9,183.6 L282.9,181.9 L281.9,183.1 L280.4,183.6 L280.1,183.4 L281.9,188.6 L281.9,192.4 L281.6,192.6 L281.4,198.1 L281.1,198.4 L281.4,206.9 L283.6,211.9 L287.4,216.4 L286.4,217.6 L284.4,222.4 L284.1,227.1 L286.9,232.9 L292.9,242.1 L292.6,242.6 L286.9,242.4 L283.6,241.4 L282.1,241.4 L280.9,240.9 L277.9,240.4 L271.1,238.4 L266.6,238.1 L266.4,237.9 L260.4,237.9 L257.6,238.6 L253.9,239.1 L247.6,241.4 L244.6,243.6 L241.4,246.9 L239.6,245.1 L234.6,238.9 L231.1,235.4 L230.6,232.9 L229.6,230.1 L230.6,227.6 L232.1,222.1 L232.1,220.9 L232.6,219.1 L232.4,215.9 L230.9,211.4 L230.6,207.9 L229.1,208.4ZM335.6,306.4 L340.6,309.1 L345.4,310.1 L346.6,310.1 L349.6,313.6 L351.6,320.6 L352.4,328.4 L353.1,329.6 L353.6,331.4 L355.4,335.1 L361.4,340.6 L361.4,341.4 L361.9,342.4 L361.9,343.4 L361.4,344.1 L361.1,345.4 L359.9,347.1 L356.1,349.1 L348.1,351.9 L346.1,353.1 L342.6,354.6 L341.9,354.6 L338.9,353.1 L333.4,347.4 L329.9,346.1 L328.9,345.4 L325.4,343.9 L324.1,342.9 L324.4,337.9 L325.6,333.1 L325.6,330.6 L326.1,329.9 L326.1,328.9 L327.1,326.6 L327.4,319.4 L328.6,315.6 L328.9,313.9 L331.9,308.9 L332.6,308.1 L334.4,307.4ZM265.4,271.6 L265.6,271.4 L265.9,271.6 L265.6,271.9Z" fill="#fff" fill-rule="evenodd" filter="url(#soft)"/>
</g>
<g><polyline points="172.0,182.4 187.0,182.4 187.0,215.0" fill="none" stroke="#4a68b4" stroke-width="1.2" stroke-dasharray="2.2 1.2"/>
<polyline points="500.0,149.7 315.3,149.7 315.3,178.0" fill="none" stroke="#4a68b4" stroke-width="1.2" stroke-dasharray="2.2 1.2"/>
<polyline points="500.0,196.8 366.5,196.8 366.5,206.0" fill="none" stroke="#4a68b4" stroke-width="1.2" stroke-dasharray="2.2 1.2"/>
<polyline points="156.7,234.6 196.7,234.6 196.7,255.4" fill="none" stroke="#4a68b4" stroke-width="1.2" stroke-dasharray="2.2 1.2"/>
<polyline points="152.3,276.8 236.9,276.8 236.9,273.2" fill="none" stroke="#4a68b4" stroke-width="1.2" stroke-dasharray="2.2 1.2"/>
<polyline points="549.6,234.6 331.8,234.6 331.8,220.7" fill="none" stroke="#4a68b4" stroke-width="1.2" stroke-dasharray="2.2 1.2"/>
<polyline points="499.2,275.7 416.2,275.7 416.2,285.3 334.2,285.3" fill="none" stroke="#4a68b4" stroke-width="1.2" stroke-dasharray="2.2 1.2"/>
<polyline points="151.9,318.1 295.1,318.1 295.1,308.8" fill="none" stroke="#4a68b4" stroke-width="1.2" stroke-dasharray="2.2 1.2"/>
<polyline points="549.3,319.5 370.1,319.5 370.1,333.6" fill="none" stroke="#4a68b4" stroke-width="1.2" stroke-dasharray="2.2 1.2"/>
<polyline points="149.7,358.1 335.8,358.1 335.8,330.3" fill="none" stroke="#4a68b4" stroke-width="1.2" stroke-dasharray="2.2 1.2"/>
<polyline points="551.2,358.5 395.7,358.5 395.7,367.4" fill="none" stroke="#4a68b4" stroke-width="1.2" stroke-dasharray="2.2 1.2"/>
<polyline points="150.2,397.3 353.4,397.3 353.4,383.4" fill="none" stroke="#4a68b4" stroke-width="1.2" stroke-dasharray="2.2 1.2"/>
<polyline points="549.3,398.6 406.4,398.6 406.4,388.9" fill="none" stroke="#4a68b4" stroke-width="1.2" stroke-dasharray="2.2 1.2"/>
<polyline points="160.0,442.3 231.4,442.3 231.4,465.5" fill="none" stroke="#4a68b4" stroke-width="1.2" stroke-dasharray="2.2 1.2"/>
<polyline points="554.0,437.0 490.5,437.0 490.5,427.7" fill="none" stroke="#4a68b4" stroke-width="1.2" stroke-dasharray="2.2 1.2"/>
<polyline points="554.0,473.3 461.2,473.3 461.2,436.0" fill="none" stroke="#4a68b4" stroke-width="1.2" stroke-dasharray="2.2 1.2"/>
<polyline points="162.1,509.6 413.4,509.6 413.4,422.5" fill="none" stroke="#4a68b4" stroke-width="1.2" stroke-dasharray="2.2 1.2"/>
<polyline points="556.3,516.2 469.1,516.2 469.1,500.2" fill="none" stroke="#4a68b4" stroke-width="1.2" stroke-dasharray="2.2 1.2"/>
<polyline points="318.9,559.6 376.7,559.6 376.7,539.2" fill="none" stroke="#4a68b4" stroke-width="1.2" stroke-dasharray="2.2 1.2"/></g>
<g><polyline points="972.0,184.4 995.4,184.4 995.4,216.6" fill="none" stroke="#2e80d8" stroke-width="1.2" stroke-dasharray="2.2 1.2"/>
<polyline points="1300.0,152.2 1132.3,152.2 1132.3,184.8" fill="none" stroke="#2e80d8" stroke-width="1.2" stroke-dasharray="2.2 1.2"/>
<polyline points="1299.5,199.3 1167.7,199.3 1167.7,208.3" fill="none" stroke="#2e80d8" stroke-width="1.2" stroke-dasharray="2.2 1.2"/>
<polyline points="956.2,236.7 996.5,236.7 996.5,257.7" fill="none" stroke="#2e80d8" stroke-width="1.2" stroke-dasharray="2.2 1.2"/>
<polyline points="951.6,279.3 1036.7,279.3 1036.7,276.9" fill="none" stroke="#2e80d8" stroke-width="1.2" stroke-dasharray="2.2 1.2"/>
<polyline points="1349.0,236.7 1131.6,236.7 1131.6,223.5" fill="none" stroke="#2e80d8" stroke-width="1.2" stroke-dasharray="2.2 1.2"/>
<polyline points="1298.5,278.4 1216.0,278.4 1216.0,287.1 1133.2,287.1" fill="none" stroke="#2e80d8" stroke-width="1.2" stroke-dasharray="2.2 1.2"/>
<polyline points="951.6,320.1 1094.6,320.1 1094.6,311.3" fill="none" stroke="#2e80d8" stroke-width="1.2" stroke-dasharray="2.2 1.2"/>
<polyline points="1348.8,321.7 1169.1,321.7 1169.1,335.6" fill="none" stroke="#2e80d8" stroke-width="1.2" stroke-dasharray="2.2 1.2"/>
<polyline points="949.7,360.3 1135.1,360.3 1135.1,332.5" fill="none" stroke="#2e80d8" stroke-width="1.2" stroke-dasharray="2.2 1.2"/>
<polyline points="1350.7,360.3 1195.0,360.3 1195.0,369.2" fill="none" stroke="#2e80d8" stroke-width="1.2" stroke-dasharray="2.2 1.2"/>
<polyline points="950.2,399.4 1152.5,399.4 1152.5,384.7" fill="none" stroke="#2e80d8" stroke-width="1.2" stroke-dasharray="2.2 1.2"/>
<polyline points="1348.8,400.9 1205.8,400.9 1205.8,392.4" fill="none" stroke="#2e80d8" stroke-width="1.2" stroke-dasharray="2.2 1.2"/>
<polyline points="959.4,444.6 1030.8,444.6 1030.8,468.5" fill="none" stroke="#2e80d8" stroke-width="1.2" stroke-dasharray="2.2 1.2"/>
<polyline points="1353.5,438.8 1289.7,438.8 1289.7,429.9" fill="none" stroke="#2e80d8" stroke-width="1.2" stroke-dasharray="2.2 1.2"/>
<polyline points="1353.5,475.5 1260.7,475.5 1260.7,438.0" fill="none" stroke="#2e80d8" stroke-width="1.2" stroke-dasharray="2.2 1.2"/>
<polyline points="961.9,512.2 1212.4,512.2 1212.4,423.3" fill="none" stroke="#2e80d8" stroke-width="1.2" stroke-dasharray="2.2 1.2"/>
<polyline points="1355.8,518.0 1272.3,518.0 1272.3,502.5" fill="none" stroke="#2e80d8" stroke-width="1.2" stroke-dasharray="2.2 1.2"/>
<polyline points="1118.0,561.8 1175.5,561.8 1175.5,540.6" fill="none" stroke="#2e80d8" stroke-width="1.2" stroke-dasharray="2.2 1.2"/></g>
<polyline points="301.0,124.5 261.5,124.5 261.5,214.0" fill="none" stroke="#c00000" stroke-width="1.2" stroke-dasharray="2.4 1.4"/>
<polyline points="1100.7,127.2 1061,127.2 1061,216.6" fill="none" stroke="#c00000" stroke-width="1.2" stroke-dasharray="2.4 1.4"/>
<rect x="500.7" y="132.4" width="198.0" height="35.0" rx="17.5" fill="#fff" stroke="#4a68b4" stroke-width="1.1" stroke-dasharray="2.3 1.25"/>
<rect x="16.7" y="165.5" width="154.8" height="34.5" rx="17.2" fill="#fff" stroke="#4a68b4" stroke-width="1.1" stroke-dasharray="2.3 1.25"/>
<rect x="500.3" y="178.8" width="188.2" height="34.5" rx="17.2" fill="#fff" stroke="#4a68b4" stroke-width="1.1" stroke-dasharray="2.3 1.25"/>
<rect x="26.0" y="217.2" width="130.2" height="34.3" rx="17.2" fill="#fff" stroke="#4a68b4" stroke-width="1.1" stroke-dasharray="2.3 1.25"/>
<rect x="550.1" y="218.0" width="129.8" height="34.2" rx="17.1" fill="#fff" stroke="#4a68b4" stroke-width="1.1" stroke-dasharray="2.3 1.25"/>
<rect x="21.8" y="257.8" width="130.0" height="34.3" rx="17.2" fill="#fff" stroke="#4a68b4" stroke-width="1.1" stroke-dasharray="2.3 1.25"/>
<rect x="499.7" y="259.2" width="168.8" height="34.2" rx="17.1" fill="#fff" stroke="#4a68b4" stroke-width="1.1" stroke-dasharray="2.3 1.25"/>
<rect x="20.8" y="302.2" width="130.6" height="34.2" rx="17.1" fill="#fff" stroke="#4a68b4" stroke-width="1.1" stroke-dasharray="2.3 1.25"/>
<rect x="549.8" y="302.1" width="130.3" height="34.2" rx="17.1" fill="#fff" stroke="#4a68b4" stroke-width="1.1" stroke-dasharray="2.3 1.25"/>
<rect x="19.1" y="341.4" width="130.1" height="34.3" rx="17.2" fill="#fff" stroke="#4a68b4" stroke-width="1.1" stroke-dasharray="2.3 1.25"/>
<rect x="551.7" y="341.1" width="130.0" height="34.0" rx="17.0" fill="#fff" stroke="#4a68b4" stroke-width="1.1" stroke-dasharray="2.3 1.25"/>
<rect x="19.4" y="381.7" width="130.3" height="34.4" rx="17.2" fill="#fff" stroke="#4a68b4" stroke-width="1.1" stroke-dasharray="2.3 1.25"/>
<rect x="549.8" y="379.7" width="130.3" height="34.1" rx="17.1" fill="#fff" stroke="#4a68b4" stroke-width="1.1" stroke-dasharray="2.3 1.25"/>
<rect x="29.2" y="426.8" width="130.3" height="34.0" rx="17.0" fill="#fff" stroke="#4a68b4" stroke-width="1.1" stroke-dasharray="2.3 1.25"/>
<rect x="554.5" y="418.3" width="130.7" height="34.1" rx="17.0" fill="#fff" stroke="#4a68b4" stroke-width="1.1" stroke-dasharray="2.3 1.25"/>
<rect x="554.5" y="457.7" width="129.5" height="34.6" rx="17.3" fill="#fff" stroke="#4a68b4" stroke-width="1.1" stroke-dasharray="2.3 1.25"/>
<rect x="31.7" y="493.4" width="129.9" height="34.7" rx="17.4" fill="#fff" stroke="#4a68b4" stroke-width="1.1" stroke-dasharray="2.3 1.25"/>
<rect x="556.8" y="500.5" width="129.1" height="35.2" rx="17.6" fill="#fff" stroke="#4a68b4" stroke-width="1.1" stroke-dasharray="2.3 1.25"/>
<rect x="188.2" y="544.6" width="130.2" height="34.5" rx="17.2" fill="#fff" stroke="#4a68b4" stroke-width="1.1" stroke-dasharray="2.3 1.25"/>
<rect x="1300.3" y="134.9" width="198.0" height="35.0" rx="17.5" fill="#fff" stroke="#2e80d8" stroke-width="1.1" stroke-dasharray="2.3 1.25"/>
<rect x="816.3" y="168.0" width="154.8" height="34.5" rx="17.2" fill="#fff" stroke="#2e80d8" stroke-width="1.1" stroke-dasharray="2.3 1.25"/>
<rect x="1299.9" y="181.3" width="188.2" height="34.5" rx="17.2" fill="#fff" stroke="#2e80d8" stroke-width="1.1" stroke-dasharray="2.3 1.25"/>
<rect x="825.6" y="219.7" width="130.2" height="34.3" rx="17.2" fill="#fff" stroke="#2e80d8" stroke-width="1.1" stroke-dasharray="2.3 1.25"/>
<rect x="1349.7" y="220.5" width="129.8" height="34.2" rx="17.1" fill="#fff" stroke="#2e80d8" stroke-width="1.1" stroke-dasharray="2.3 1.25"/>
<rect x="821.4" y="260.3" width="130.0" height="34.3" rx="17.2" fill="#fff" stroke="#2e80d8" stroke-width="1.1" stroke-dasharray="2.3 1.25"/>
<rect x="1299.3" y="261.7" width="168.8" height="34.2" rx="17.1" fill="#fff" stroke="#2e80d8" stroke-width="1.1" stroke-dasharray="2.3 1.25"/>
<rect x="820.4" y="304.7" width="130.6" height="34.2" rx="17.1" fill="#fff" stroke="#2e80d8" stroke-width="1.1" stroke-dasharray="2.3 1.25"/>
<rect x="1349.4" y="304.6" width="130.3" height="34.2" rx="17.1" fill="#fff" stroke="#2e80d8" stroke-width="1.1" stroke-dasharray="2.3 1.25"/>
<rect x="818.7" y="343.9" width="130.1" height="34.3" rx="17.2" fill="#fff" stroke="#2e80d8" stroke-width="1.1" stroke-dasharray="2.3 1.25"/>
<rect x="1351.3" y="343.6" width="130.0" height="34.0" rx="17.0" fill="#fff" stroke="#2e80d8" stroke-width="1.1" stroke-dasharray="2.3 1.25"/>
<rect x="819.0" y="384.2" width="130.3" height="34.4" rx="17.2" fill="#fff" stroke="#2e80d8" stroke-width="1.1" stroke-dasharray="2.3 1.25"/>
<rect x="1349.4" y="382.2" width="130.3" height="34.1" rx="17.1" fill="#fff" stroke="#2e80d8" stroke-width="1.1" stroke-dasharray="2.3 1.25"/>
<rect x="828.8" y="429.3" width="130.3" height="34.0" rx="17.0" fill="#fff" stroke="#2e80d8" stroke-width="1.1" stroke-dasharray="2.3 1.25"/>
<rect x="1354.1" y="420.8" width="130.7" height="34.1" rx="17.0" fill="#fff" stroke="#2e80d8" stroke-width="1.1" stroke-dasharray="2.3 1.25"/>
<rect x="1354.1" y="460.2" width="129.5" height="34.6" rx="17.3" fill="#fff" stroke="#2e80d8" stroke-width="1.1" stroke-dasharray="2.3 1.25"/>
<rect x="831.3" y="495.9" width="129.9" height="34.7" rx="17.4" fill="#fff" stroke="#2e80d8" stroke-width="1.1" stroke-dasharray="2.3 1.25"/>
<rect x="1356.4" y="503.0" width="129.1" height="35.2" rx="17.6" fill="#fff" stroke="#2e80d8" stroke-width="1.1" stroke-dasharray="2.3 1.25"/>
<rect x="987.8" y="547.1" width="130.2" height="34.5" rx="17.2" fill="#fff" stroke="#2e80d8" stroke-width="1.1" stroke-dasharray="2.3 1.25"/>
<rect x="301.0" y="108.0" width="142.0" height="35.6" rx="17.5" fill="#c00000"/>
<rect x="1100.6" y="110.5" width="142.0" height="35.6" rx="17.5" fill="#c00000"/>
<rect x="392" y="618.5" width="70.3" height="6.4" fill="url(#gl)" filter="url(#barhalo)"/>
<rect x="1238" y="615.8" width="71.6" height="7.2" fill="url(#gr)" filter="url(#barhalo)"/>
</svg>
<div class="pill" style="left:500.2px;top:131.9px;width:199.0px;height:36.0px"><span class="n">TRENTINO ALTO ADIGE</span><span class="v" style="color:#4a68b4">0,36%</span></div>
<div class="pill" style="left:16.2px;top:165.0px;width:155.8px;height:35.5px"><span class="n">VALLE D’AOSTA</span><span class="v" style="color:#4a68b4">0,01%</span></div>
<div class="pill" style="left:499.8px;top:178.3px;width:189.2px;height:35.5px"><span class="n" style="font-size:11.6px">FRIULI VENEZIA GIULIA</span><span class="v" style="color:#4a68b4">2,11%</span></div>
<div class="pill" style="left:25.5px;top:216.7px;width:131.2px;height:35.3px"><span class="n">PIEMONTE</span><span class="v" style="color:#4a68b4">20,49%</span></div>
<div class="pill" style="left:549.6px;top:217.5px;width:130.8px;height:35.2px"><span class="n">VENETO</span><span class="v" style="color:#4a68b4">11,31%</span></div>
<div class="pill" style="left:21.3px;top:257.3px;width:131.0px;height:35.3px"><span class="n">LIGURIA</span><span class="v" style="color:#4a68b4">1,66%</span></div>
<div class="pill" style="left:499.2px;top:258.7px;width:169.8px;height:35.2px"><span class="n">EMILIA ROMAGNA</span><span class="v" style="color:#4a68b4">10,71%</span></div>
<div class="pill" style="left:20.3px;top:301.7px;width:131.6px;height:35.2px"><span class="n">TOSCANA</span><span class="v" style="color:#4a68b4">4,99%</span></div>
<div class="pill" style="left:549.3px;top:301.6px;width:131.3px;height:35.2px"><span class="n">MARCHE</span><span class="v" style="color:#4a68b4">2,69%</span></div>
<div class="pill" style="left:18.6px;top:340.9px;width:131.1px;height:35.3px"><span class="n">UMBRIA</span><span class="v" style="color:#4a68b4">0,30%</span></div>
<div class="pill" style="left:551.2px;top:340.6px;width:131.0px;height:35.0px"><span class="n">ABRUZZO</span><span class="v" style="color:#4a68b4">0,58%</span></div>
<div class="pill" style="left:18.9px;top:381.2px;width:131.3px;height:35.4px"><span class="n">LAZIO</span><span class="v" style="color:#4a68b4">8,51%</span></div>
<div class="pill" style="left:549.3px;top:379.2px;width:131.3px;height:35.1px"><span class="n">MOLISE</span><span class="v" style="color:#4a68b4">0,15%</span></div>
<div class="pill" style="left:28.7px;top:426.3px;width:131.3px;height:35.0px"><span class="n">SARDEGNA</span><span class="v" style="color:#4a68b4">0,27%</span></div>
<div class="pill" style="left:554.0px;top:417.8px;width:131.7px;height:35.1px"><span class="n">PUGLIA</span><span class="v" style="color:#4a68b4">1,62%</span></div>
<div class="pill" style="left:554.0px;top:457.2px;width:130.5px;height:35.6px"><span class="n">BASILICATA</span><span class="v" style="color:#4a68b4">0,23%</span></div>
<div class="pill" style="left:31.2px;top:492.9px;width:130.9px;height:35.7px"><span class="n">CAMPANIA</span><span class="v" style="color:#4a68b4">2,0%</span></div>
<div class="pill" style="left:556.3px;top:500.0px;width:130.1px;height:36.2px"><span class="n">CALABRIA</span><span class="v" style="color:#4a68b4">1,62%</span></div>
<div class="pill" style="left:187.7px;top:544.1px;width:131.2px;height:35.5px"><span class="n">SICILIA</span><span class="v" style="color:#4a68b4">0,67%</span></div>
<div class="pill" style="left:1299.8px;top:134.4px;width:199.0px;height:36.0px"><span class="n">TRENTINO ALTO ADIGE</span><span class="v" style="color:#2e80d8">0,34%</span></div>
<div class="pill" style="left:815.8px;top:167.5px;width:155.8px;height:35.5px"><span class="n">VALLE D’AOSTA</span><span class="v" style="color:#2e80d8">0,00%</span></div>
<div class="pill" style="left:1299.4px;top:180.8px;width:189.2px;height:35.5px"><span class="n" style="font-size:11.6px">FRIULI VENEZIA GIULIA</span><span class="v" style="color:#2e80d8">1,94%</span></div>
<div class="pill" style="left:825.1px;top:219.2px;width:131.2px;height:35.3px"><span class="n">PIEMONTE</span><span class="v" style="color:#2e80d8">9,57%</span></div>
<div class="pill" style="left:1349.2px;top:220.0px;width:130.8px;height:35.2px"><span class="n">VENETO</span><span class="v" style="color:#2e80d8">12,24%</span></div>
<div class="pill" style="left:820.9px;top:259.8px;width:131.0px;height:35.3px"><span class="n">LIGURIA</span><span class="v" style="color:#2e80d8">1,85%</span></div>
<div class="pill" style="left:1298.8px;top:261.2px;width:169.8px;height:35.2px"><span class="n">EMILIA ROMAGNA</span><span class="v" style="color:#2e80d8">11,13%</span></div>
<div class="pill" style="left:819.9px;top:304.2px;width:131.6px;height:35.2px"><span class="n">TOSCANA</span><span class="v" style="color:#2e80d8">7,82%</span></div>
<div class="pill" style="left:1348.9px;top:304.1px;width:131.3px;height:35.2px"><span class="n">MARCHE</span><span class="v" style="color:#2e80d8">4,94%</span></div>
<div class="pill" style="left:818.2px;top:343.4px;width:131.1px;height:35.3px"><span class="n">UMBRIA</span><span class="v" style="color:#2e80d8">0,87%</span></div>
<div class="pill" style="left:1350.8px;top:343.1px;width:131.0px;height:35.0px"><span class="n">ABRUZZO</span><span class="v" style="color:#2e80d8">1,60%</span></div>
<div class="pill" style="left:818.5px;top:383.7px;width:131.3px;height:35.4px"><span class="n">LAZIO</span><span class="v" style="color:#2e80d8">12,10%</span></div>
<div class="pill" style="left:1348.9px;top:381.7px;width:131.3px;height:35.1px"><span class="n">MOLISE</span><span class="v" style="color:#2e80d8">0,49%</span></div>
<div class="pill" style="left:828.3px;top:428.8px;width:131.3px;height:35.0px"><span class="n">SARDEGNA</span><span class="v" style="color:#2e80d8">1,12%</span></div>
<div class="pill" style="left:1353.6px;top:420.3px;width:131.7px;height:35.1px"><span class="n">PUGLIA</span><span class="v" style="color:#2e80d8">3,64%</span></div>
<div class="pill" style="left:1353.6px;top:459.7px;width:130.5px;height:35.6px"><span class="n">BASILICATA</span><span class="v" style="color:#2e80d8">1,12%</span></div>
<div class="pill" style="left:830.8px;top:495.4px;width:130.9px;height:35.7px"><span class="n">CAMPANIA</span><span class="v" style="color:#2e80d8">5,34%</span></div>
<div class="pill" style="left:1355.9px;top:502.5px;width:130.1px;height:36.2px"><span class="n">CALABRIA</span><span class="v" style="color:#2e80d8">1,07%</span></div>
<div class="pill" style="left:987.3px;top:546.6px;width:131.2px;height:35.5px"><span class="n">SICILIA</span><span class="v" style="color:#2e80d8">2,62%</span></div>
<div class="pill" style="left:301.0px;top:108.0px;width:142.0px;height:35.6px"><span class="n" style="color:#fff;font-size:12px;-webkit-text-stroke:0.2px #fff">LOMBARDIA</span><span class="v" style="color:#fff;font-size:15.4px">29,71%</span></div>
<div class="pill" style="left:1100.6px;top:110.5px;width:142.0px;height:35.6px"><span class="n" style="color:#fff;font-size:12px;-webkit-text-stroke:0.2px #fff">LOMBARDIA</span><span class="v" style="color:#fff;font-size:15.4px">20,36%</span></div>

<div class="hdr" style="left:0;width:736px;background:#4a65ad"></div>
<div class="hdr" style="left:760px;width:767px;background:#2a7fd7"></div>
<div class="ht" style="left:-100px;width:753px;top:9.2px;text-align:center;transform:scaleX(0.928)">DISTRIBUZIONE GEOGRAFICA DEPOSITI</div>
<div class="ht" style="left:-100px;width:753px;top:40.3px;text-align:center;transform:scaleX(0.928)">BREVETTI PER INVENZIONE INDUSTRIALE</div>
<div class="ht" style="left:708.7px;width:700px;top:9.2px;text-align:center;transform:scaleX(0.928)">DISTRIBUZIONE GEOGRAFICA DEPOSITI</div>
<div class="ht" style="left:708.7px;width:700px;top:40.3px;text-align:center;transform:scaleX(0.928)">BREVETTI PER MODELLO D’ UTILITÀ</div>
<div class="yr" style="left:659.5px;top:25.6px;letter-spacing:-0.25px">2025</div>
<div class="yr" style="left:1458.3px;top:22.5px;letter-spacing:-0.25px">2025</div>
<svg width="1527" height="80" viewBox="0 0 1527 80" style="pointer-events:none"><path fill="#fff" d="M584.2,73.6 L584.2,60 C577,53 574.2,45 574.2,34 C574.2,18 587,7.4 601,7.4 C615,7.4 624,16 624,30 L629.5,41 C630.5,44 629,45.5 626,45.5 L625.2,56 C624.5,61.5 620.5,63.6 615,63.6 L610,63.6 L610,73.6 Z"/><g transform="translate(601.3,22.4)" fill="#4a65ad"><circle r="7.6"/><rect x="-1.8" y="-9.5" width="3.6" height="3.4" rx="0.9" transform="rotate(0)"/><rect x="-1.8" y="-9.5" width="3.6" height="3.4" rx="0.9" transform="rotate(45)"/><rect x="-1.8" y="-9.5" width="3.6" height="3.4" rx="0.9" transform="rotate(90)"/><rect x="-1.8" y="-9.5" width="3.6" height="3.4" rx="0.9" transform="rotate(135)"/><rect x="-1.8" y="-9.5" width="3.6" height="3.4" rx="0.9" transform="rotate(180)"/><rect x="-1.8" y="-9.5" width="3.6" height="3.4" rx="0.9" transform="rotate(225)"/><rect x="-1.8" y="-9.5" width="3.6" height="3.4" rx="0.9" transform="rotate(270)"/><rect x="-1.8" y="-9.5" width="3.6" height="3.4" rx="0.9" transform="rotate(315)"/><circle r="3.4" fill="#fff"/></g><g transform="translate(591.0,38.9)" fill="#4a65ad"><circle r="7.6"/><rect x="-1.8" y="-9.6" width="3.6" height="3.5" rx="0.9" transform="rotate(0)"/><rect x="-1.8" y="-9.6" width="3.6" height="3.5" rx="0.9" transform="rotate(45)"/><rect x="-1.8" y="-9.6" width="3.6" height="3.5" rx="0.9" transform="rotate(90)"/><rect x="-1.8" y="-9.6" width="3.6" height="3.5" rx="0.9" transform="rotate(135)"/><rect x="-1.8" y="-9.6" width="3.6" height="3.5" rx="0.9" transform="rotate(180)"/><rect x="-1.8" y="-9.6" width="3.6" height="3.5" rx="0.9" transform="rotate(225)"/><rect x="-1.8" y="-9.6" width="3.6" height="3.5" rx="0.9" transform="rotate(270)"/><rect x="-1.8" y="-9.6" width="3.6" height="3.5" rx="0.9" transform="rotate(315)"/><circle r="3.4" fill="#fff"/></g><rect x="1367.3" y="10.9" width="11.4" height="45.7" rx="5.7" fill="#fff"/><rect x="1372" y="17.7" width="48.3" height="38.9" fill="#fff"/><rect x="1379.4" y="21.1" width="36.8" height="31.5" fill="#2a7fd7"/><rect x="1370.9" y="14.8" width="3.8" height="30.6" rx="1.9" fill="#2a7fd7"/><circle cx="1372.9" cy="50.9" r="1.9" fill="#2a7fd7"/><g stroke="#fff" stroke-width="2.1" fill="none"><path d="M1392.5,27.3 H1384.1 V47.8 H1395.4 M1404.8,27.3 H1410.9 V47.8 H1399.5"/><path d="M1384.1,34.9 H1389 M1399.8,34.9 H1410.9"/><path d="M1388,41.2 H1394.4 V47.8 M1384.1,41.2 H1385.6 M1400.5,47.8 V41.2 H1405.5 M1408,41.2 H1410.9"/></g><path d="M1397.4,29.3 L1410.6,16.1" stroke="#2a7fd7" stroke-width="8" fill="none"/><path d="M1397.4,29.3 L1410.4,16.3" stroke="#fff" stroke-width="5.4" fill="none"/><path d="M1399.3,31.2 L1395.5,27.4 L1391.2,35 Z" fill="#fff"/><circle cx="1394.9" cy="30.6" r="1.1" fill="#2a7fd7"/><path d="M1411.8,14.8 L1414.6,12" stroke="#fff" stroke-width="5.4" stroke-linecap="round" fill="none"/></svg>
<div class="lg" style="left:265px;top:617.7px;font-size:9.3px;line-height:9.3px;transform:scaleX(0.885);transform-origin:left top">INVENZIONE INDUSTRIALE</div>
<div class="lg" style="left:379.3px;top:632.2px;font-size:8.8px;line-height:8.8px">0,01%</div>
<div class="lg" style="left:449px;top:632.2px;font-size:8.8px;line-height:8.8px">29,71%</div>
<div class="lg" style="left:1136.7px;top:615.2px;font-size:9.6px;line-height:9.6px;transform:scaleX(0.9);transform-origin:left top">MODELLI D'UTILITA'</div>
<div class="lg" style="left:1225px;top:630.1px;font-size:8.8px;line-height:8.8px">0,00%</div>
<div class="lg" style="left:1294.9px;top:630.1px;font-size:8.8px;line-height:8.8px">20,36%</div>
</body></html>
